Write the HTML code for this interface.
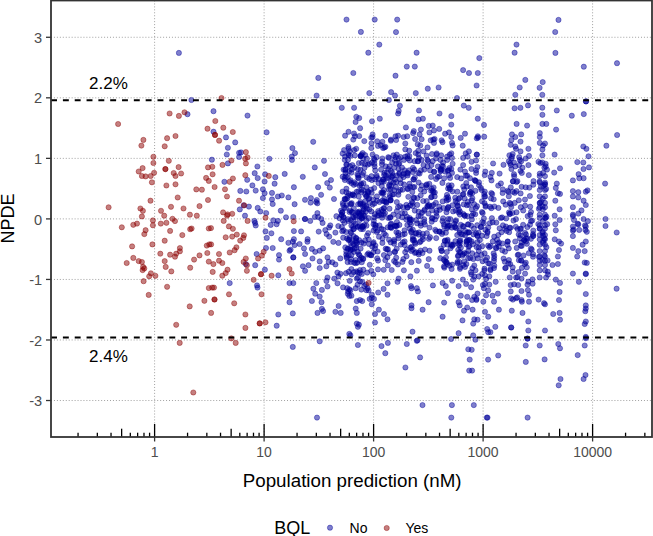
<!DOCTYPE html>
<html><head><meta charset="utf-8"><style>
html,body{margin:0;padding:0;background:#fff;overflow:hidden}
svg{display:block;font-family:"Liberation Sans",sans-serif}
</style></head><body>
<svg width="653" height="536" viewBox="0 0 653 536">
<rect width="653" height="536" fill="#fff"/>
<g stroke="#a0a0a0" stroke-width="1" stroke-dasharray="1 1.95"><line x1="154.60" y1="0.5" x2="154.60" y2="437.0"/><line x1="264.10" y1="0.5" x2="264.10" y2="437.0"/><line x1="373.60" y1="0.5" x2="373.60" y2="437.0"/><line x1="483.10" y1="0.5" x2="483.10" y2="437.0"/><line x1="592.60" y1="0.5" x2="592.60" y2="437.0"/><line x1="51.0" y1="400.52" x2="652.0" y2="400.52"/><line x1="51.0" y1="339.98" x2="652.0" y2="339.98"/><line x1="51.0" y1="279.44" x2="652.0" y2="279.44"/><line x1="51.0" y1="218.90" x2="652.0" y2="218.90"/><line x1="51.0" y1="158.36" x2="652.0" y2="158.36"/><line x1="51.0" y1="97.82" x2="652.0" y2="97.82"/><line x1="51.0" y1="37.28" x2="652.0" y2="37.28"/></g><g fill="#00009A" fill-opacity="0.5" stroke="#00009A" stroke-opacity="0.5" stroke-width="0.8"><circle cx="178.9" cy="52.9" r="2.6"/><circle cx="191.4" cy="100.0" r="2.6"/><circle cx="346.5" cy="19.6" r="2.6"/><circle cx="360.9" cy="31.9" r="2.6"/><circle cx="368.3" cy="52.7" r="2.6"/><circle cx="353.3" cy="73.0" r="2.6"/><circle cx="318.3" cy="77.9" r="2.6"/><circle cx="316.6" cy="95.6" r="2.6"/><circle cx="369.3" cy="93.1" r="2.6"/><circle cx="341.8" cy="107.8" r="2.6"/><circle cx="354.1" cy="107.8" r="2.6"/><circle cx="374.7" cy="19.6" r="2.6"/><circle cx="397.2" cy="19.6" r="2.6"/><circle cx="396.0" cy="32.1" r="2.6"/><circle cx="379.3" cy="44.6" r="2.6"/><circle cx="416.6" cy="52.7" r="2.6"/><circle cx="406.8" cy="66.6" r="2.6"/><circle cx="414.8" cy="66.6" r="2.6"/><circle cx="395.5" cy="75.7" r="2.6"/><circle cx="391.1" cy="92.1" r="2.6"/><circle cx="395.0" cy="95.6" r="2.6"/><circle cx="388.9" cy="100.0" r="2.6"/><circle cx="415.8" cy="93.1" r="2.6"/><circle cx="427.8" cy="88.7" r="2.6"/><circle cx="438.6" cy="87.5" r="2.6"/><circle cx="399.9" cy="105.8" r="2.6"/><circle cx="457.0" cy="98.0" r="2.6"/><circle cx="463.8" cy="105.6" r="2.6"/><circle cx="468.7" cy="107.8" r="2.6"/><circle cx="463.1" cy="70.1" r="2.6"/><circle cx="469.0" cy="73.0" r="2.6"/><circle cx="477.8" cy="73.0" r="2.6"/><circle cx="479.3" cy="58.1" r="2.6"/><circle cx="476.6" cy="85.5" r="2.6"/><circle cx="516.5" cy="44.6" r="2.6"/><circle cx="514.6" cy="52.7" r="2.6"/><circle cx="525.3" cy="79.9" r="2.6"/><circle cx="519.7" cy="87.5" r="2.6"/><circle cx="515.3" cy="94.8" r="2.6"/><circle cx="514.6" cy="108.3" r="2.6"/><circle cx="520.4" cy="107.8" r="2.6"/><circle cx="528.0" cy="105.4" r="2.6"/><circle cx="558.5" cy="19.9" r="2.6"/><circle cx="555.2" cy="32.0" r="2.6"/><circle cx="555.4" cy="52.9" r="2.6"/><circle cx="583.8" cy="66.7" r="2.6"/><circle cx="617.0" cy="63.2" r="2.6"/><circle cx="542.7" cy="82.1" r="2.6"/><circle cx="539.6" cy="87.8" r="2.6"/><circle cx="542.3" cy="94.8" r="2.6"/><circle cx="586.0" cy="101.4" r="2.6"/><circle cx="586.0" cy="101.4" r="2.6"/><circle cx="542.3" cy="107.7" r="2.6"/><circle cx="187.5" cy="114.2" r="2.6"/><circle cx="213.5" cy="111.2" r="2.6"/><circle cx="247.5" cy="115.6" r="2.6"/><circle cx="213.5" cy="131.7" r="2.6"/><circle cx="226.0" cy="137.4" r="2.6"/><circle cx="235.2" cy="142.4" r="2.6"/><circle cx="227.9" cy="147.8" r="2.6"/><circle cx="226.8" cy="154.5" r="2.6"/><circle cx="239.1" cy="152.8" r="2.6"/><circle cx="241.0" cy="152.4" r="2.6"/><circle cx="239.1" cy="157.0" r="2.6"/><circle cx="211.9" cy="159.7" r="2.6"/><circle cx="227.9" cy="163.4" r="2.6"/><circle cx="257.4" cy="166.5" r="2.6"/><circle cx="266.6" cy="132.3" r="2.6"/><circle cx="269.4" cy="158.8" r="2.6"/><circle cx="254.7" cy="173.2" r="2.6"/><circle cx="265.1" cy="174.3" r="2.6"/><circle cx="356.3" cy="116.8" r="2.6"/><circle cx="359.2" cy="118.1" r="2.6"/><circle cx="355.6" cy="122.0" r="2.6"/><circle cx="360.1" cy="128.2" r="2.6"/><circle cx="348.5" cy="131.8" r="2.6"/><circle cx="345.1" cy="135.7" r="2.6"/><circle cx="354.0" cy="133.5" r="2.6"/><circle cx="354.9" cy="136.3" r="2.6"/><circle cx="359.2" cy="136.1" r="2.6"/><circle cx="353.3" cy="139.6" r="2.6"/><circle cx="313.2" cy="141.8" r="2.6"/><circle cx="348.4" cy="146.8" r="2.6"/><circle cx="356.2" cy="148.8" r="2.6"/><circle cx="292.4" cy="148.1" r="2.6"/><circle cx="295.0" cy="153.1" r="2.6"/><circle cx="291.8" cy="156.6" r="2.6"/><circle cx="292.0" cy="159.9" r="2.6"/><circle cx="324.0" cy="160.8" r="2.6"/><circle cx="314.8" cy="167.4" r="2.6"/><circle cx="325.0" cy="174.0" r="2.6"/><circle cx="348.1" cy="153.8" r="2.6"/><circle cx="360.7" cy="156.0" r="2.6"/><circle cx="360.7" cy="156.0" r="2.6"/><circle cx="360.7" cy="156.0" r="2.6"/><circle cx="344.7" cy="159.8" r="2.6"/><circle cx="346.9" cy="164.6" r="2.6"/><circle cx="349.9" cy="166.1" r="2.6"/><circle cx="345.4" cy="169.9" r="2.6"/><circle cx="349.2" cy="171.3" r="2.6"/><circle cx="354.4" cy="167.6" r="2.6"/><circle cx="358.9" cy="163.1" r="2.6"/><circle cx="364.9" cy="163.9" r="2.6"/><circle cx="367.8" cy="164.6" r="2.6"/><circle cx="360.4" cy="169.9" r="2.6"/><circle cx="363.4" cy="172.8" r="2.6"/><circle cx="357.4" cy="174.3" r="2.6"/><circle cx="419.0" cy="110.5" r="2.6"/><circle cx="398.7" cy="110.9" r="2.6"/><circle cx="398.1" cy="113.5" r="2.6"/><circle cx="439.5" cy="113.5" r="2.6"/><circle cx="379.8" cy="118.7" r="2.6"/><circle cx="372.0" cy="121.3" r="2.6"/><circle cx="418.6" cy="119.4" r="2.6"/><circle cx="422.9" cy="118.7" r="2.6"/><circle cx="405.9" cy="127.5" r="2.6"/><circle cx="428.8" cy="125.9" r="2.6"/><circle cx="432.7" cy="125.6" r="2.6"/><circle cx="439.2" cy="128.9" r="2.6"/><circle cx="413.8" cy="131.1" r="2.6"/><circle cx="420.9" cy="129.6" r="2.6"/><circle cx="429.4" cy="132.4" r="2.6"/><circle cx="434.0" cy="130.5" r="2.6"/><circle cx="445.1" cy="133.7" r="2.6"/><circle cx="449.0" cy="132.4" r="2.6"/><circle cx="385.4" cy="135.7" r="2.6"/><circle cx="372.6" cy="134.4" r="2.6"/><circle cx="371.3" cy="137.6" r="2.6"/><circle cx="372.6" cy="137.0" r="2.6"/><circle cx="377.2" cy="141.3" r="2.6"/><circle cx="390.9" cy="139.6" r="2.6"/><circle cx="395.5" cy="136.3" r="2.6"/><circle cx="398.1" cy="135.7" r="2.6"/><circle cx="396.1" cy="140.0" r="2.6"/><circle cx="403.7" cy="137.0" r="2.6"/><circle cx="407.2" cy="136.3" r="2.6"/><circle cx="413.1" cy="133.1" r="2.6"/><circle cx="419.6" cy="134.4" r="2.6"/><circle cx="415.1" cy="139.0" r="2.6"/><circle cx="421.6" cy="139.2" r="2.6"/><circle cx="430.7" cy="140.3" r="2.6"/><circle cx="434.6" cy="139.0" r="2.6"/><circle cx="433.3" cy="139.6" r="2.6"/><circle cx="434.0" cy="142.9" r="2.6"/><circle cx="441.6" cy="140.3" r="2.6"/><circle cx="442.5" cy="142.2" r="2.6"/><circle cx="405.3" cy="143.5" r="2.6"/><circle cx="417.7" cy="144.2" r="2.6"/><circle cx="420.3" cy="145.5" r="2.6"/><circle cx="427.5" cy="147.4" r="2.6"/><circle cx="385.4" cy="146.8" r="2.6"/><circle cx="383.1" cy="148.1" r="2.6"/><circle cx="384.4" cy="147.4" r="2.6"/><circle cx="371.3" cy="148.1" r="2.6"/><circle cx="405.3" cy="149.4" r="2.6"/><circle cx="409.2" cy="150.7" r="2.6"/><circle cx="418.3" cy="150.7" r="2.6"/><circle cx="423.5" cy="151.4" r="2.6"/><circle cx="432.0" cy="154.0" r="2.6"/><circle cx="436.6" cy="154.6" r="2.6"/><circle cx="441.2" cy="155.3" r="2.6"/><circle cx="447.1" cy="156.6" r="2.6"/><circle cx="449.7" cy="154.6" r="2.6"/><circle cx="372.6" cy="154.6" r="2.6"/><circle cx="373.9" cy="158.5" r="2.6"/><circle cx="372.0" cy="162.5" r="2.6"/><circle cx="374.6" cy="159.9" r="2.6"/><circle cx="382.4" cy="158.5" r="2.6"/><circle cx="388.3" cy="157.2" r="2.6"/><circle cx="393.5" cy="155.3" r="2.6"/><circle cx="396.8" cy="154.6" r="2.6"/><circle cx="398.7" cy="158.5" r="2.6"/><circle cx="394.8" cy="159.9" r="2.6"/><circle cx="392.2" cy="162.5" r="2.6"/><circle cx="396.1" cy="163.8" r="2.6"/><circle cx="399.4" cy="163.1" r="2.6"/><circle cx="395.5" cy="157.2" r="2.6"/><circle cx="405.3" cy="156.6" r="2.6"/><circle cx="407.9" cy="158.5" r="2.6"/><circle cx="404.0" cy="159.9" r="2.6"/><circle cx="409.8" cy="160.5" r="2.6"/><circle cx="418.3" cy="154.6" r="2.6"/><circle cx="419.0" cy="157.9" r="2.6"/><circle cx="421.6" cy="159.9" r="2.6"/><circle cx="417.7" cy="161.2" r="2.6"/><circle cx="427.5" cy="159.9" r="2.6"/><circle cx="432.7" cy="161.2" r="2.6"/><circle cx="436.0" cy="158.5" r="2.6"/><circle cx="440.5" cy="159.9" r="2.6"/><circle cx="443.1" cy="162.5" r="2.6"/><circle cx="447.1" cy="159.9" r="2.6"/><circle cx="374.6" cy="166.4" r="2.6"/><circle cx="375.2" cy="170.3" r="2.6"/><circle cx="381.1" cy="169.6" r="2.6"/><circle cx="385.7" cy="166.4" r="2.6"/><circle cx="388.3" cy="169.0" r="2.6"/><circle cx="387.0" cy="172.3" r="2.6"/><circle cx="390.9" cy="171.0" r="2.6"/><circle cx="384.4" cy="172.9" r="2.6"/><circle cx="389.6" cy="166.4" r="2.6"/><circle cx="394.2" cy="167.7" r="2.6"/><circle cx="392.2" cy="172.9" r="2.6"/><circle cx="398.7" cy="169.0" r="2.6"/><circle cx="402.0" cy="167.7" r="2.6"/><circle cx="404.6" cy="170.3" r="2.6"/><circle cx="399.4" cy="172.9" r="2.6"/><circle cx="404.0" cy="173.6" r="2.6"/><circle cx="409.2" cy="170.3" r="2.6"/><circle cx="407.9" cy="173.6" r="2.6"/><circle cx="414.4" cy="169.6" r="2.6"/><circle cx="418.3" cy="172.9" r="2.6"/><circle cx="420.9" cy="170.3" r="2.6"/><circle cx="419.6" cy="173.6" r="2.6"/><circle cx="423.5" cy="165.1" r="2.6"/><circle cx="427.5" cy="166.4" r="2.6"/><circle cx="431.4" cy="165.1" r="2.6"/><circle cx="430.1" cy="170.3" r="2.6"/><circle cx="434.0" cy="171.6" r="2.6"/><circle cx="437.9" cy="166.4" r="2.6"/><circle cx="440.5" cy="169.0" r="2.6"/><circle cx="443.1" cy="166.4" r="2.6"/><circle cx="445.1" cy="171.6" r="2.6"/><circle cx="448.4" cy="170.3" r="2.6"/><circle cx="451.3" cy="116.1" r="2.6"/><circle cx="451.3" cy="124.6" r="2.6"/><circle cx="451.3" cy="137.0" r="2.6"/><circle cx="452.0" cy="142.9" r="2.6"/><circle cx="452.6" cy="145.5" r="2.6"/><circle cx="477.8" cy="118.7" r="2.6"/><circle cx="484.0" cy="124.9" r="2.6"/><circle cx="465.0" cy="133.7" r="2.6"/><circle cx="460.7" cy="137.9" r="2.6"/><circle cx="477.8" cy="136.3" r="2.6"/><circle cx="476.8" cy="138.3" r="2.6"/><circle cx="478.1" cy="137.6" r="2.6"/><circle cx="484.2" cy="136.7" r="2.6"/><circle cx="462.7" cy="145.7" r="2.6"/><circle cx="516.6" cy="123.9" r="2.6"/><circle cx="527.1" cy="125.6" r="2.6"/><circle cx="512.0" cy="134.4" r="2.6"/><circle cx="521.2" cy="134.4" r="2.6"/><circle cx="515.3" cy="137.0" r="2.6"/><circle cx="511.4" cy="140.0" r="2.6"/><circle cx="520.5" cy="141.6" r="2.6"/><circle cx="510.7" cy="144.8" r="2.6"/><circle cx="515.3" cy="146.5" r="2.6"/><circle cx="516.0" cy="148.8" r="2.6"/><circle cx="520.5" cy="151.4" r="2.6"/><circle cx="528.4" cy="148.8" r="2.6"/><circle cx="451.3" cy="153.3" r="2.6"/><circle cx="452.0" cy="157.9" r="2.6"/><circle cx="468.9" cy="151.4" r="2.6"/><circle cx="465.7" cy="153.3" r="2.6"/><circle cx="467.6" cy="156.6" r="2.6"/><circle cx="463.1" cy="157.9" r="2.6"/><circle cx="476.8" cy="154.6" r="2.6"/><circle cx="476.8" cy="154.6" r="2.6"/><circle cx="471.5" cy="161.8" r="2.6"/><circle cx="476.1" cy="160.5" r="2.6"/><circle cx="452.6" cy="163.8" r="2.6"/><circle cx="451.3" cy="169.0" r="2.6"/><circle cx="452.0" cy="172.9" r="2.6"/><circle cx="463.1" cy="165.1" r="2.6"/><circle cx="460.4" cy="169.6" r="2.6"/><circle cx="465.0" cy="171.6" r="2.6"/><circle cx="471.5" cy="169.0" r="2.6"/><circle cx="477.4" cy="167.0" r="2.6"/><circle cx="476.1" cy="170.3" r="2.6"/><circle cx="476.1" cy="172.9" r="2.6"/><circle cx="485.3" cy="171.6" r="2.6"/><circle cx="491.8" cy="172.9" r="2.6"/><circle cx="493.1" cy="163.5" r="2.6"/><circle cx="503.5" cy="164.8" r="2.6"/><circle cx="499.6" cy="173.6" r="2.6"/><circle cx="509.4" cy="155.3" r="2.6"/><circle cx="512.7" cy="154.0" r="2.6"/><circle cx="511.4" cy="158.5" r="2.6"/><circle cx="508.8" cy="161.2" r="2.6"/><circle cx="514.0" cy="162.5" r="2.6"/><circle cx="510.7" cy="165.1" r="2.6"/><circle cx="511.4" cy="169.0" r="2.6"/><circle cx="515.3" cy="166.4" r="2.6"/><circle cx="512.0" cy="156.6" r="2.6"/><circle cx="510.1" cy="163.1" r="2.6"/><circle cx="519.2" cy="157.2" r="2.6"/><circle cx="521.2" cy="161.2" r="2.6"/><circle cx="519.2" cy="165.1" r="2.6"/><circle cx="522.5" cy="167.7" r="2.6"/><circle cx="520.5" cy="171.0" r="2.6"/><circle cx="521.8" cy="172.9" r="2.6"/><circle cx="519.9" cy="159.9" r="2.6"/><circle cx="525.7" cy="158.5" r="2.6"/><circle cx="529.0" cy="155.9" r="2.6"/><circle cx="528.4" cy="165.1" r="2.6"/><circle cx="514.0" cy="174.2" r="2.6"/><circle cx="556.8" cy="110.5" r="2.6"/><circle cx="542.4" cy="114.8" r="2.6"/><circle cx="571.8" cy="115.7" r="2.6"/><circle cx="583.8" cy="114.1" r="2.6"/><circle cx="542.4" cy="123.9" r="2.6"/><circle cx="546.3" cy="123.9" r="2.6"/><circle cx="556.1" cy="129.6" r="2.6"/><circle cx="539.8" cy="133.1" r="2.6"/><circle cx="539.8" cy="137.0" r="2.6"/><circle cx="539.8" cy="142.9" r="2.6"/><circle cx="545.0" cy="143.5" r="2.6"/><circle cx="543.1" cy="145.5" r="2.6"/><circle cx="542.4" cy="149.4" r="2.6"/><circle cx="542.4" cy="155.3" r="2.6"/><circle cx="554.6" cy="154.6" r="2.6"/><circle cx="583.3" cy="146.5" r="2.6"/><circle cx="586.4" cy="148.8" r="2.6"/><circle cx="588.5" cy="156.3" r="2.6"/><circle cx="606.4" cy="145.7" r="2.6"/><circle cx="538.5" cy="161.8" r="2.6"/><circle cx="542.4" cy="162.5" r="2.6"/><circle cx="545.7" cy="163.8" r="2.6"/><circle cx="540.4" cy="163.1" r="2.6"/><circle cx="544.4" cy="167.7" r="2.6"/><circle cx="547.0" cy="169.6" r="2.6"/><circle cx="545.7" cy="166.4" r="2.6"/><circle cx="539.8" cy="173.6" r="2.6"/><circle cx="543.1" cy="172.9" r="2.6"/><circle cx="560.0" cy="168.3" r="2.6"/><circle cx="554.2" cy="172.6" r="2.6"/><circle cx="577.3" cy="162.1" r="2.6"/><circle cx="583.3" cy="162.5" r="2.6"/><circle cx="583.5" cy="169.0" r="2.6"/><circle cx="589.0" cy="167.4" r="2.6"/><circle cx="578.6" cy="174.2" r="2.6"/><circle cx="617.1" cy="135.0" r="2.6"/><circle cx="224.4" cy="181.8" r="2.6"/><circle cx="247.2" cy="179.8" r="2.6"/><circle cx="257.7" cy="178.1" r="2.6"/><circle cx="264.6" cy="181.5" r="2.6"/><circle cx="275.3" cy="177.2" r="2.6"/><circle cx="274.6" cy="183.7" r="2.6"/><circle cx="284.7" cy="173.9" r="2.6"/><circle cx="252.4" cy="185.4" r="2.6"/><circle cx="255.7" cy="190.6" r="2.6"/><circle cx="240.3" cy="190.9" r="2.6"/><circle cx="246.3" cy="191.5" r="2.6"/><circle cx="262.9" cy="189.3" r="2.6"/><circle cx="264.6" cy="193.2" r="2.6"/><circle cx="272.0" cy="192.9" r="2.6"/><circle cx="262.9" cy="198.1" r="2.6"/><circle cx="277.9" cy="196.5" r="2.6"/><circle cx="281.8" cy="195.5" r="2.6"/><circle cx="288.4" cy="197.4" r="2.6"/><circle cx="272.0" cy="199.4" r="2.6"/><circle cx="272.7" cy="204.0" r="2.6"/><circle cx="243.7" cy="205.3" r="2.6"/><circle cx="248.9" cy="206.6" r="2.6"/><circle cx="239.8" cy="209.4" r="2.6"/><circle cx="257.7" cy="207.9" r="2.6"/><circle cx="260.3" cy="211.5" r="2.6"/><circle cx="266.2" cy="213.1" r="2.6"/><circle cx="280.8" cy="210.7" r="2.6"/><circle cx="245.0" cy="215.7" r="2.6"/><circle cx="286.0" cy="217.3" r="2.6"/><circle cx="254.4" cy="220.9" r="2.6"/><circle cx="255.7" cy="225.5" r="2.6"/><circle cx="255.1" cy="222.9" r="2.6"/><circle cx="273.3" cy="220.3" r="2.6"/><circle cx="277.9" cy="220.9" r="2.6"/><circle cx="270.7" cy="224.9" r="2.6"/><circle cx="276.6" cy="224.2" r="2.6"/><circle cx="265.5" cy="231.4" r="2.6"/><circle cx="271.4" cy="233.3" r="2.6"/><circle cx="266.8" cy="237.9" r="2.6"/><circle cx="281.2" cy="239.2" r="2.6"/><circle cx="302.8" cy="176.8" r="2.6"/><circle cx="293.9" cy="187.2" r="2.6"/><circle cx="318.1" cy="187.2" r="2.6"/><circle cx="327.2" cy="183.1" r="2.6"/><circle cx="329.8" cy="187.6" r="2.6"/><circle cx="305.0" cy="199.8" r="2.6"/><circle cx="310.9" cy="198.1" r="2.6"/><circle cx="310.6" cy="202.6" r="2.6"/><circle cx="316.8" cy="200.0" r="2.6"/><circle cx="317.4" cy="203.3" r="2.6"/><circle cx="316.1" cy="202.0" r="2.6"/><circle cx="321.1" cy="194.8" r="2.6"/><circle cx="294.6" cy="204.2" r="2.6"/><circle cx="293.3" cy="217.0" r="2.6"/><circle cx="305.0" cy="219.0" r="2.6"/><circle cx="305.0" cy="219.0" r="2.6"/><circle cx="310.2" cy="220.9" r="2.6"/><circle cx="314.8" cy="217.0" r="2.6"/><circle cx="317.4" cy="213.1" r="2.6"/><circle cx="318.1" cy="217.0" r="2.6"/><circle cx="321.3" cy="219.0" r="2.6"/><circle cx="322.6" cy="222.9" r="2.6"/><circle cx="293.9" cy="231.1" r="2.6"/><circle cx="301.1" cy="231.4" r="2.6"/><circle cx="318.7" cy="231.6" r="2.6"/><circle cx="325.3" cy="230.1" r="2.6"/><circle cx="329.2" cy="227.5" r="2.6"/><circle cx="326.6" cy="234.0" r="2.6"/><circle cx="329.2" cy="236.6" r="2.6"/><circle cx="293.9" cy="239.2" r="2.6"/><circle cx="307.6" cy="239.2" r="2.6"/><circle cx="539.7" cy="176.1" r="2.6"/><circle cx="545.0" cy="176.1" r="2.6"/><circle cx="539.7" cy="182.5" r="2.6"/><circle cx="545.0" cy="182.5" r="2.6"/><circle cx="539.7" cy="190.0" r="2.6"/><circle cx="545.0" cy="190.0" r="2.6"/><circle cx="539.7" cy="196.4" r="2.6"/><circle cx="545.0" cy="196.4" r="2.6"/><circle cx="542.9" cy="198.6" r="2.6"/><circle cx="539.7" cy="202.9" r="2.6"/><circle cx="545.0" cy="202.9" r="2.6"/><circle cx="539.7" cy="207.2" r="2.6"/><circle cx="545.0" cy="207.2" r="2.6"/><circle cx="542.9" cy="209.3" r="2.6"/><circle cx="539.7" cy="214.7" r="2.6"/><circle cx="545.0" cy="214.7" r="2.6"/><circle cx="539.7" cy="217.9" r="2.6"/><circle cx="545.0" cy="217.9" r="2.6"/><circle cx="542.9" cy="221.1" r="2.6"/><circle cx="539.7" cy="225.4" r="2.6"/><circle cx="545.0" cy="225.4" r="2.6"/><circle cx="539.7" cy="228.6" r="2.6"/><circle cx="545.0" cy="228.6" r="2.6"/><circle cx="542.9" cy="231.8" r="2.6"/><circle cx="539.7" cy="235.0" r="2.6"/><circle cx="545.0" cy="235.0" r="2.6"/><circle cx="539.7" cy="239.3" r="2.6"/><circle cx="545.0" cy="239.3" r="2.6"/><circle cx="539.7" cy="244.7" r="2.6"/><circle cx="545.0" cy="244.7" r="2.6"/><circle cx="539.7" cy="251.1" r="2.6"/><circle cx="545.0" cy="251.1" r="2.6"/><circle cx="539.7" cy="256.5" r="2.6"/><circle cx="545.0" cy="256.5" r="2.6"/><circle cx="539.7" cy="260.8" r="2.6"/><circle cx="545.0" cy="260.8" r="2.6"/><circle cx="539.7" cy="265.0" r="2.6"/><circle cx="545.0" cy="265.0" r="2.6"/><circle cx="539.7" cy="270.4" r="2.6"/><circle cx="545.0" cy="270.4" r="2.6"/><circle cx="545.0" cy="184.6" r="2.6"/><circle cx="546.1" cy="188.9" r="2.6"/><circle cx="556.8" cy="183.6" r="2.6"/><circle cx="555.8" cy="187.9" r="2.6"/><circle cx="557.9" cy="193.2" r="2.6"/><circle cx="560.0" cy="193.9" r="2.6"/><circle cx="555.3" cy="200.7" r="2.6"/><circle cx="559.6" cy="209.3" r="2.6"/><circle cx="554.7" cy="215.7" r="2.6"/><circle cx="559.6" cy="220.0" r="2.6"/><circle cx="555.3" cy="224.3" r="2.6"/><circle cx="555.8" cy="230.3" r="2.6"/><circle cx="554.7" cy="239.3" r="2.6"/><circle cx="559.0" cy="241.5" r="2.6"/><circle cx="561.1" cy="243.6" r="2.6"/><circle cx="559.0" cy="250.0" r="2.6"/><circle cx="557.9" cy="256.5" r="2.6"/><circle cx="552.5" cy="265.0" r="2.6"/><circle cx="557.9" cy="264.0" r="2.6"/><circle cx="572.9" cy="180.4" r="2.6"/><circle cx="579.3" cy="178.2" r="2.6"/><circle cx="583.6" cy="178.2" r="2.6"/><circle cx="572.9" cy="191.1" r="2.6"/><circle cx="578.3" cy="192.2" r="2.6"/><circle cx="585.8" cy="191.7" r="2.6"/><circle cx="587.5" cy="190.4" r="2.6"/><circle cx="572.9" cy="196.4" r="2.6"/><circle cx="578.3" cy="197.5" r="2.6"/><circle cx="583.6" cy="200.7" r="2.6"/><circle cx="585.8" cy="205.0" r="2.6"/><circle cx="572.9" cy="207.2" r="2.6"/><circle cx="578.3" cy="213.6" r="2.6"/><circle cx="581.5" cy="210.4" r="2.6"/><circle cx="572.9" cy="214.7" r="2.6"/><circle cx="574.0" cy="220.0" r="2.6"/><circle cx="583.6" cy="219.0" r="2.6"/><circle cx="587.9" cy="221.1" r="2.6"/><circle cx="572.9" cy="226.5" r="2.6"/><circle cx="578.3" cy="224.3" r="2.6"/><circle cx="585.8" cy="226.5" r="2.6"/><circle cx="586.8" cy="231.8" r="2.6"/><circle cx="572.9" cy="230.7" r="2.6"/><circle cx="572.9" cy="236.1" r="2.6"/><circle cx="585.8" cy="241.5" r="2.6"/><circle cx="582.6" cy="244.7" r="2.6"/><circle cx="572.9" cy="247.9" r="2.6"/><circle cx="578.3" cy="251.1" r="2.6"/><circle cx="584.7" cy="251.1" r="2.6"/><circle cx="577.2" cy="256.5" r="2.6"/><circle cx="584.7" cy="262.5" r="2.6"/><circle cx="586.8" cy="262.9" r="2.6"/><circle cx="572.9" cy="273.6" r="2.6"/><circle cx="585.8" cy="273.6" r="2.6"/><circle cx="605.1" cy="183.6" r="2.6"/><circle cx="605.5" cy="219.0" r="2.6"/><circle cx="605.5" cy="226.0" r="2.6"/><circle cx="334.3" cy="278.6" r="2.6"/><circle cx="338.6" cy="276.4" r="2.6"/><circle cx="337.5" cy="283.3" r="2.6"/><circle cx="347.2" cy="288.2" r="2.6"/><circle cx="350.4" cy="290.4" r="2.6"/><circle cx="348.2" cy="291.4" r="2.6"/><circle cx="351.4" cy="295.7" r="2.6"/><circle cx="349.3" cy="289.3" r="2.6"/><circle cx="356.8" cy="278.6" r="2.6"/><circle cx="357.9" cy="277.5" r="2.6"/><circle cx="355.7" cy="288.2" r="2.6"/><circle cx="362.2" cy="281.8" r="2.6"/><circle cx="364.3" cy="286.1" r="2.6"/><circle cx="367.5" cy="288.2" r="2.6"/><circle cx="368.6" cy="290.4" r="2.6"/><circle cx="371.8" cy="297.9" r="2.6"/><circle cx="369.7" cy="298.9" r="2.6"/><circle cx="374.0" cy="298.9" r="2.6"/><circle cx="360.0" cy="300.0" r="2.6"/><circle cx="362.2" cy="301.1" r="2.6"/><circle cx="356.8" cy="301.1" r="2.6"/><circle cx="371.8" cy="304.3" r="2.6"/><circle cx="378.2" cy="292.5" r="2.6"/><circle cx="383.6" cy="288.9" r="2.6"/><circle cx="387.5" cy="294.7" r="2.6"/><circle cx="387.5" cy="283.3" r="2.6"/><circle cx="338.6" cy="306.0" r="2.6"/><circle cx="335.4" cy="311.8" r="2.6"/><circle cx="340.7" cy="312.9" r="2.6"/><circle cx="355.7" cy="308.6" r="2.6"/><circle cx="356.8" cy="312.9" r="2.6"/><circle cx="378.9" cy="309.7" r="2.6"/><circle cx="375.0" cy="314.0" r="2.6"/><circle cx="384.0" cy="314.0" r="2.6"/><circle cx="387.5" cy="319.3" r="2.6"/><circle cx="375.0" cy="322.5" r="2.6"/><circle cx="356.8" cy="323.6" r="2.6"/><circle cx="357.9" cy="326.8" r="2.6"/><circle cx="358.9" cy="324.7" r="2.6"/><circle cx="349.3" cy="333.9" r="2.6"/><circle cx="350.4" cy="335.4" r="2.6"/><circle cx="357.9" cy="345.0" r="2.6"/><circle cx="381.5" cy="346.1" r="2.6"/><circle cx="387.9" cy="342.9" r="2.6"/><circle cx="385.3" cy="353.2" r="2.6"/><circle cx="398.6" cy="278.6" r="2.6"/><circle cx="397.5" cy="281.8" r="2.6"/><circle cx="410.4" cy="276.4" r="2.6"/><circle cx="411.0" cy="286.1" r="2.6"/><circle cx="411.5" cy="288.2" r="2.6"/><circle cx="416.8" cy="288.2" r="2.6"/><circle cx="417.9" cy="291.4" r="2.6"/><circle cx="411.5" cy="305.4" r="2.6"/><circle cx="411.5" cy="308.2" r="2.6"/><circle cx="422.6" cy="309.7" r="2.6"/><circle cx="428.6" cy="302.2" r="2.6"/><circle cx="412.5" cy="331.7" r="2.6"/><circle cx="416.8" cy="340.8" r="2.6"/><circle cx="417.5" cy="340.3" r="2.6"/><circle cx="406.8" cy="344.0" r="2.6"/><circle cx="432.9" cy="285.4" r="2.6"/><circle cx="442.6" cy="282.9" r="2.6"/><circle cx="445.8" cy="286.1" r="2.6"/><circle cx="447.9" cy="293.2" r="2.6"/><circle cx="444.1" cy="302.6" r="2.6"/><circle cx="442.6" cy="316.7" r="2.6"/><circle cx="452.2" cy="280.7" r="2.6"/><circle cx="458.6" cy="286.1" r="2.6"/><circle cx="462.9" cy="279.6" r="2.6"/><circle cx="466.1" cy="283.9" r="2.6"/><circle cx="460.8" cy="295.7" r="2.6"/><circle cx="458.6" cy="302.2" r="2.6"/><circle cx="459.7" cy="305.4" r="2.6"/><circle cx="467.2" cy="296.8" r="2.6"/><circle cx="464.0" cy="310.7" r="2.6"/><circle cx="467.2" cy="307.5" r="2.6"/><circle cx="462.5" cy="320.4" r="2.6"/><circle cx="458.6" cy="333.2" r="2.6"/><circle cx="451.1" cy="339.0" r="2.6"/><circle cx="468.3" cy="349.3" r="2.6"/><circle cx="474.3" cy="276.4" r="2.6"/><circle cx="478.6" cy="276.4" r="2.6"/><circle cx="473.2" cy="279.6" r="2.6"/><circle cx="471.1" cy="287.2" r="2.6"/><circle cx="485.0" cy="275.4" r="2.6"/><circle cx="489.3" cy="276.4" r="2.6"/><circle cx="482.9" cy="285.0" r="2.6"/><circle cx="485.0" cy="283.9" r="2.6"/><circle cx="489.3" cy="284.6" r="2.6"/><circle cx="483.9" cy="288.2" r="2.6"/><circle cx="488.2" cy="290.4" r="2.6"/><circle cx="495.7" cy="281.8" r="2.6"/><circle cx="477.5" cy="293.6" r="2.6"/><circle cx="474.3" cy="296.8" r="2.6"/><circle cx="472.1" cy="300.0" r="2.6"/><circle cx="476.4" cy="298.9" r="2.6"/><circle cx="486.1" cy="295.3" r="2.6"/><circle cx="492.5" cy="295.7" r="2.6"/><circle cx="497.9" cy="293.6" r="2.6"/><circle cx="483.3" cy="301.7" r="2.6"/><circle cx="494.0" cy="301.7" r="2.6"/><circle cx="472.6" cy="309.7" r="2.6"/><circle cx="485.0" cy="311.8" r="2.6"/><circle cx="488.2" cy="316.7" r="2.6"/><circle cx="498.9" cy="309.7" r="2.6"/><circle cx="474.3" cy="319.3" r="2.6"/><circle cx="477.5" cy="319.7" r="2.6"/><circle cx="473.2" cy="323.6" r="2.6"/><circle cx="495.3" cy="326.8" r="2.6"/><circle cx="487.2" cy="329.0" r="2.6"/><circle cx="488.2" cy="332.2" r="2.6"/><circle cx="490.4" cy="332.2" r="2.6"/><circle cx="473.2" cy="335.4" r="2.6"/><circle cx="475.4" cy="339.7" r="2.6"/><circle cx="471.7" cy="349.8" r="2.6"/><circle cx="509.7" cy="277.5" r="2.6"/><circle cx="516.1" cy="277.5" r="2.6"/><circle cx="521.5" cy="278.6" r="2.6"/><circle cx="518.2" cy="285.0" r="2.6"/><circle cx="510.7" cy="285.0" r="2.6"/><circle cx="527.5" cy="284.6" r="2.6"/><circle cx="510.7" cy="291.4" r="2.6"/><circle cx="521.5" cy="291.0" r="2.6"/><circle cx="529.0" cy="294.7" r="2.6"/><circle cx="512.9" cy="299.6" r="2.6"/><circle cx="517.2" cy="297.4" r="2.6"/><circle cx="521.5" cy="300.0" r="2.6"/><circle cx="521.9" cy="301.7" r="2.6"/><circle cx="529.0" cy="301.7" r="2.6"/><circle cx="511.8" cy="310.7" r="2.6"/><circle cx="522.5" cy="312.9" r="2.6"/><circle cx="528.3" cy="321.5" r="2.6"/><circle cx="511.2" cy="327.5" r="2.6"/><circle cx="511.2" cy="327.5" r="2.6"/><circle cx="528.3" cy="330.5" r="2.6"/><circle cx="527.5" cy="338.6" r="2.6"/><circle cx="527.5" cy="338.6" r="2.6"/><circle cx="525.7" cy="345.5" r="2.6"/><circle cx="539.7" cy="277.5" r="2.6"/><circle cx="546.1" cy="277.5" r="2.6"/><circle cx="538.6" cy="299.6" r="2.6"/><circle cx="544.0" cy="303.2" r="2.6"/><circle cx="545.0" cy="304.3" r="2.6"/><circle cx="545.0" cy="330.5" r="2.6"/><circle cx="539.7" cy="345.5" r="2.6"/><circle cx="555.8" cy="279.6" r="2.6"/><circle cx="560.0" cy="282.9" r="2.6"/><circle cx="559.6" cy="291.9" r="2.6"/><circle cx="559.0" cy="300.0" r="2.6"/><circle cx="553.2" cy="314.0" r="2.6"/><circle cx="559.6" cy="312.9" r="2.6"/><circle cx="560.0" cy="319.7" r="2.6"/><circle cx="558.3" cy="344.0" r="2.6"/><circle cx="560.0" cy="348.3" r="2.6"/><circle cx="578.9" cy="281.8" r="2.6"/><circle cx="585.8" cy="294.0" r="2.6"/><circle cx="585.8" cy="305.4" r="2.6"/><circle cx="585.8" cy="308.6" r="2.6"/><circle cx="585.3" cy="311.2" r="2.6"/><circle cx="585.8" cy="321.5" r="2.6"/><circle cx="584.7" cy="324.0" r="2.6"/><circle cx="585.8" cy="336.9" r="2.6"/><circle cx="585.8" cy="338.2" r="2.6"/><circle cx="584.7" cy="345.5" r="2.6"/><circle cx="266.0" cy="248.0" r="2.6"/><circle cx="272.7" cy="248.0" r="2.6"/><circle cx="256.6" cy="254.0" r="2.6"/><circle cx="245.8" cy="264.1" r="2.6"/><circle cx="255.2" cy="265.2" r="2.6"/><circle cx="264.9" cy="269.7" r="2.6"/><circle cx="279.0" cy="255.1" r="2.6"/><circle cx="279.0" cy="259.6" r="2.6"/><circle cx="278.3" cy="275.3" r="2.6"/><circle cx="288.4" cy="242.8" r="2.6"/><circle cx="292.8" cy="241.7" r="2.6"/><circle cx="294.6" cy="245.1" r="2.6"/><circle cx="290.6" cy="249.6" r="2.6"/><circle cx="289.5" cy="250.7" r="2.6"/><circle cx="293.3" cy="257.4" r="2.6"/><circle cx="293.3" cy="257.4" r="2.6"/><circle cx="299.6" cy="244.0" r="2.6"/><circle cx="307.4" cy="241.7" r="2.6"/><circle cx="304.0" cy="248.4" r="2.6"/><circle cx="305.1" cy="254.0" r="2.6"/><circle cx="311.9" cy="248.9" r="2.6"/><circle cx="315.2" cy="251.8" r="2.6"/><circle cx="319.7" cy="250.7" r="2.6"/><circle cx="323.1" cy="248.4" r="2.6"/><circle cx="312.5" cy="258.5" r="2.6"/><circle cx="319.7" cy="261.4" r="2.6"/><circle cx="327.5" cy="257.4" r="2.6"/><circle cx="328.7" cy="261.9" r="2.6"/><circle cx="302.9" cy="266.3" r="2.6"/><circle cx="305.1" cy="270.8" r="2.6"/><circle cx="308.5" cy="265.2" r="2.6"/><circle cx="319.7" cy="268.1" r="2.6"/><circle cx="326.4" cy="266.3" r="2.6"/><circle cx="289.5" cy="283.1" r="2.6"/><circle cx="293.3" cy="283.1" r="2.6"/><circle cx="257.0" cy="285.4" r="2.6"/><circle cx="257.5" cy="287.6" r="2.6"/><circle cx="229.7" cy="283.1" r="2.6"/><circle cx="316.3" cy="283.1" r="2.6"/><circle cx="326.4" cy="280.9" r="2.6"/><circle cx="327.5" cy="277.5" r="2.6"/><circle cx="327.5" cy="286.5" r="2.6"/><circle cx="313.4" cy="288.7" r="2.6"/><circle cx="315.2" cy="293.7" r="2.6"/><circle cx="321.9" cy="289.9" r="2.6"/><circle cx="319.7" cy="296.6" r="2.6"/><circle cx="289.5" cy="302.2" r="2.6"/><circle cx="311.9" cy="301.0" r="2.6"/><circle cx="321.5" cy="302.2" r="2.6"/><circle cx="321.9" cy="308.9" r="2.6"/><circle cx="323.1" cy="311.1" r="2.6"/><circle cx="317.5" cy="312.9" r="2.6"/><circle cx="278.3" cy="314.5" r="2.6"/><circle cx="292.8" cy="313.4" r="2.6"/><circle cx="276.7" cy="325.7" r="2.6"/><circle cx="319.7" cy="341.3" r="2.6"/><circle cx="292.8" cy="346.9" r="2.6"/><circle cx="405.4" cy="367.5" r="2.6"/><circle cx="317.0" cy="417.6" r="2.6"/><circle cx="420.1" cy="357.4" r="2.6"/><circle cx="469.7" cy="359.6" r="2.6"/><circle cx="498.2" cy="355.5" r="2.6"/><circle cx="488.1" cy="359.6" r="2.6"/><circle cx="525.8" cy="361.9" r="2.6"/><circle cx="469.2" cy="370.6" r="2.6"/><circle cx="472.1" cy="370.6" r="2.6"/><circle cx="422.5" cy="405.1" r="2.6"/><circle cx="451.9" cy="405.1" r="2.6"/><circle cx="473.8" cy="405.1" r="2.6"/><circle cx="451.3" cy="417.6" r="2.6"/><circle cx="486.8" cy="417.6" r="2.6"/><circle cx="487.5" cy="417.6" r="2.6"/><circle cx="527.6" cy="417.6" r="2.6"/><circle cx="616.6" cy="288.7" r="2.6"/><circle cx="577.7" cy="355.1" r="2.6"/><circle cx="544.6" cy="359.4" r="2.6"/><circle cx="560.5" cy="379.0" r="2.6"/><circle cx="558.7" cy="385.3" r="2.6"/><circle cx="585.5" cy="375.0" r="2.6"/><circle cx="583.6" cy="379.0" r="2.6"/><circle cx="336.4" cy="216.2" r="2.6"/><circle cx="339.5" cy="218.2" r="2.6"/><circle cx="330.3" cy="225.4" r="2.6"/><circle cx="335.4" cy="232.6" r="2.6"/><circle cx="333.3" cy="241.8" r="2.6"/><circle cx="338.5" cy="242.9" r="2.6"/><circle cx="332.3" cy="262.3" r="2.6"/><circle cx="335.4" cy="264.4" r="2.6"/><circle cx="337.4" cy="272.6" r="2.6"/><circle cx="338.3" cy="226.1" r="2.6"/><circle cx="331.0" cy="180.0" r="2.6"/><circle cx="334.0" cy="199.0" r="2.6"/><circle cx="616.7" cy="232.5" r="2.6"/><circle cx="573.0" cy="216.1" r="2.6"/><circle cx="577.6" cy="223.7" r="2.6"/><circle cx="585.0" cy="225.4" r="2.6"/><circle cx="585.4" cy="229.9" r="2.6"/><circle cx="573.5" cy="229.5" r="2.6"/><circle cx="579.2" cy="229.9" r="2.6"/><circle cx="585.8" cy="274.1" r="2.6"/><circle cx="542.5" cy="233.2" r="2.6"/><circle cx="547.2" cy="224.2" r="2.6"/><circle cx="543.1" cy="235.8" r="2.6"/><circle cx="539.8" cy="228.6" r="2.6"/><circle cx="544.3" cy="255.3" r="2.6"/><circle cx="538.9" cy="208.8" r="2.6"/><circle cx="538.9" cy="256.9" r="2.6"/><circle cx="544.9" cy="184.0" r="2.6"/><circle cx="547.8" cy="271.7" r="2.6"/><circle cx="544.5" cy="238.5" r="2.6"/><circle cx="539.6" cy="181.4" r="2.6"/><circle cx="543.3" cy="185.7" r="2.6"/><circle cx="539.9" cy="203.0" r="2.6"/><circle cx="538.3" cy="224.1" r="2.6"/><circle cx="542.4" cy="260.0" r="2.6"/><circle cx="543.2" cy="240.8" r="2.6"/><circle cx="543.0" cy="242.9" r="2.6"/><circle cx="542.6" cy="206.4" r="2.6"/><circle cx="548.0" cy="274.6" r="2.6"/><circle cx="546.4" cy="247.2" r="2.6"/><circle cx="541.2" cy="201.8" r="2.6"/><circle cx="540.9" cy="186.7" r="2.6"/><circle cx="545.7" cy="218.0" r="2.6"/><circle cx="546.5" cy="216.7" r="2.6"/><circle cx="547.6" cy="260.5" r="2.6"/><circle cx="369.5" cy="163.7" r="2.6"/><circle cx="380.7" cy="145.1" r="2.6"/><circle cx="342.6" cy="153.5" r="2.6"/><circle cx="357.9" cy="169.2" r="2.6"/><circle cx="382.1" cy="161.7" r="2.6"/><circle cx="374.4" cy="163.8" r="2.6"/><circle cx="350.4" cy="155.8" r="2.6"/><circle cx="351.4" cy="172.6" r="2.6"/><circle cx="345.4" cy="169.5" r="2.6"/><circle cx="346.3" cy="164.7" r="2.6"/><circle cx="361.5" cy="154.6" r="2.6"/><circle cx="390.9" cy="140.7" r="2.6"/><circle cx="345.5" cy="172.9" r="2.6"/><circle cx="371.5" cy="143.3" r="2.6"/><circle cx="399.3" cy="174.1" r="2.6"/><circle cx="348.5" cy="155.2" r="2.6"/><circle cx="349.8" cy="151.3" r="2.6"/><circle cx="378.0" cy="145.9" r="2.6"/><circle cx="382.4" cy="141.8" r="2.6"/><circle cx="351.9" cy="169.4" r="2.6"/><circle cx="365.2" cy="155.1" r="2.6"/><circle cx="376.6" cy="157.2" r="2.6"/><circle cx="364.3" cy="141.1" r="2.6"/><circle cx="384.1" cy="174.8" r="2.6"/><circle cx="398.6" cy="163.9" r="2.6"/><circle cx="362.7" cy="153.1" r="2.6"/><circle cx="382.0" cy="164.3" r="2.6"/><circle cx="348.6" cy="148.5" r="2.6"/><circle cx="363.1" cy="158.4" r="2.6"/><circle cx="389.0" cy="158.0" r="2.6"/><circle cx="343.6" cy="169.6" r="2.6"/><circle cx="366.9" cy="158.7" r="2.6"/><circle cx="354.9" cy="155.4" r="2.6"/><circle cx="364.5" cy="167.8" r="2.6"/><circle cx="348.0" cy="159.8" r="2.6"/><circle cx="352.3" cy="165.1" r="2.6"/><circle cx="344.1" cy="150.0" r="2.6"/><circle cx="362.0" cy="162.9" r="2.6"/><circle cx="345.0" cy="156.5" r="2.6"/><circle cx="354.1" cy="150.1" r="2.6"/><circle cx="413.0" cy="167.8" r="2.6"/><circle cx="434.2" cy="172.1" r="2.6"/><circle cx="409.3" cy="156.0" r="2.6"/><circle cx="407.4" cy="155.9" r="2.6"/><circle cx="436.7" cy="153.4" r="2.6"/><circle cx="426.6" cy="155.6" r="2.6"/><circle cx="414.7" cy="161.2" r="2.6"/><circle cx="441.9" cy="165.8" r="2.6"/><circle cx="400.7" cy="157.2" r="2.6"/><circle cx="407.3" cy="172.7" r="2.6"/><circle cx="440.5" cy="171.0" r="2.6"/><circle cx="441.3" cy="169.4" r="2.6"/><circle cx="447.5" cy="170.6" r="2.6"/><circle cx="412.8" cy="172.1" r="2.6"/><circle cx="424.3" cy="169.6" r="2.6"/><circle cx="428.2" cy="161.2" r="2.6"/><circle cx="418.2" cy="161.2" r="2.6"/><circle cx="415.7" cy="153.1" r="2.6"/><circle cx="441.0" cy="170.8" r="2.6"/><circle cx="449.3" cy="168.0" r="2.6"/><circle cx="347.8" cy="293.8" r="2.6"/><circle cx="361.4" cy="289.6" r="2.6"/><circle cx="349.3" cy="295.9" r="2.6"/><circle cx="366.4" cy="290.2" r="2.6"/><circle cx="357.6" cy="284.7" r="2.6"/><circle cx="343.1" cy="287.4" r="2.6"/><circle cx="360.0" cy="281.4" r="2.6"/><circle cx="366.0" cy="284.6" r="2.6"/><circle cx="349.7" cy="280.8" r="2.6"/><circle cx="371.9" cy="294.8" r="2.6"/><circle cx="532.5" cy="279.4" r="2.6"/><circle cx="476.4" cy="300.0" r="2.6"/><circle cx="486.1" cy="278.9" r="2.6"/><circle cx="514.1" cy="284.3" r="2.6"/><circle cx="528.4" cy="281.6" r="2.6"/><circle cx="532.6" cy="283.7" r="2.6"/><circle cx="511.1" cy="298.4" r="2.6"/><circle cx="516.1" cy="298.2" r="2.6"/><circle cx="517.5" cy="277.2" r="2.6"/><circle cx="527.9" cy="290.1" r="2.6"/><circle cx="344.6" cy="177.8" r="2.6"/><circle cx="349.2" cy="181.3" r="2.6"/><circle cx="342.7" cy="176.7" r="2.6"/><circle cx="347.7" cy="177.1" r="2.6"/><circle cx="344.9" cy="180.0" r="2.6"/><circle cx="345.8" cy="176.3" r="2.6"/><circle cx="358.0" cy="177.7" r="2.6"/><circle cx="358.7" cy="178.2" r="2.6"/><circle cx="351.4" cy="183.0" r="2.6"/><circle cx="350.5" cy="180.3" r="2.6"/><circle cx="358.3" cy="175.4" r="2.6"/><circle cx="355.8" cy="183.8" r="2.6"/><circle cx="353.8" cy="184.8" r="2.6"/><circle cx="354.2" cy="182.3" r="2.6"/><circle cx="366.8" cy="177.5" r="2.6"/><circle cx="361.0" cy="184.7" r="2.6"/><circle cx="362.3" cy="175.0" r="2.6"/><circle cx="369.3" cy="178.9" r="2.6"/><circle cx="361.1" cy="183.4" r="2.6"/><circle cx="363.4" cy="183.2" r="2.6"/><circle cx="376.7" cy="177.1" r="2.6"/><circle cx="378.7" cy="179.0" r="2.6"/><circle cx="374.9" cy="179.4" r="2.6"/><circle cx="376.6" cy="175.4" r="2.6"/><circle cx="371.5" cy="176.2" r="2.6"/><circle cx="371.9" cy="180.1" r="2.6"/><circle cx="378.5" cy="183.1" r="2.6"/><circle cx="381.8" cy="181.9" r="2.6"/><circle cx="388.3" cy="177.8" r="2.6"/><circle cx="386.4" cy="178.1" r="2.6"/><circle cx="389.3" cy="184.5" r="2.6"/><circle cx="383.0" cy="179.6" r="2.6"/><circle cx="383.9" cy="181.6" r="2.6"/><circle cx="383.4" cy="179.7" r="2.6"/><circle cx="385.9" cy="175.7" r="2.6"/><circle cx="391.1" cy="176.4" r="2.6"/><circle cx="396.7" cy="175.6" r="2.6"/><circle cx="395.2" cy="179.5" r="2.6"/><circle cx="390.9" cy="181.8" r="2.6"/><circle cx="393.4" cy="182.6" r="2.6"/><circle cx="392.9" cy="175.6" r="2.6"/><circle cx="391.9" cy="177.1" r="2.6"/><circle cx="396.3" cy="182.1" r="2.6"/><circle cx="402.3" cy="175.1" r="2.6"/><circle cx="409.5" cy="183.7" r="2.6"/><circle cx="407.6" cy="175.5" r="2.6"/><circle cx="400.3" cy="179.3" r="2.6"/><circle cx="404.1" cy="184.4" r="2.6"/><circle cx="400.8" cy="183.2" r="2.6"/><circle cx="403.6" cy="177.1" r="2.6"/><circle cx="413.9" cy="179.6" r="2.6"/><circle cx="414.8" cy="177.5" r="2.6"/><circle cx="418.6" cy="182.5" r="2.6"/><circle cx="413.4" cy="179.3" r="2.6"/><circle cx="426.8" cy="184.4" r="2.6"/><circle cx="429.3" cy="183.8" r="2.6"/><circle cx="439.2" cy="176.4" r="2.6"/><circle cx="437.7" cy="177.0" r="2.6"/><circle cx="436.1" cy="179.0" r="2.6"/><circle cx="431.1" cy="176.9" r="2.6"/><circle cx="348.7" cy="193.5" r="2.6"/><circle cx="346.3" cy="192.2" r="2.6"/><circle cx="342.6" cy="191.6" r="2.6"/><circle cx="346.4" cy="188.7" r="2.6"/><circle cx="356.5" cy="191.8" r="2.6"/><circle cx="359.5" cy="185.6" r="2.6"/><circle cx="358.3" cy="191.3" r="2.6"/><circle cx="352.8" cy="194.3" r="2.6"/><circle cx="352.7" cy="194.9" r="2.6"/><circle cx="361.5" cy="192.1" r="2.6"/><circle cx="367.7" cy="193.2" r="2.6"/><circle cx="363.2" cy="190.1" r="2.6"/><circle cx="368.5" cy="192.2" r="2.6"/><circle cx="365.2" cy="194.2" r="2.6"/><circle cx="361.4" cy="189.6" r="2.6"/><circle cx="366.5" cy="187.3" r="2.6"/><circle cx="367.8" cy="191.4" r="2.6"/><circle cx="371.7" cy="192.7" r="2.6"/><circle cx="374.2" cy="188.0" r="2.6"/><circle cx="371.0" cy="189.6" r="2.6"/><circle cx="389.1" cy="186.1" r="2.6"/><circle cx="381.3" cy="192.5" r="2.6"/><circle cx="382.2" cy="193.6" r="2.6"/><circle cx="388.9" cy="189.7" r="2.6"/><circle cx="383.6" cy="193.1" r="2.6"/><circle cx="383.9" cy="190.1" r="2.6"/><circle cx="382.5" cy="192.2" r="2.6"/><circle cx="381.8" cy="186.0" r="2.6"/><circle cx="398.4" cy="194.7" r="2.6"/><circle cx="398.6" cy="191.7" r="2.6"/><circle cx="390.6" cy="189.2" r="2.6"/><circle cx="394.3" cy="190.2" r="2.6"/><circle cx="391.2" cy="185.6" r="2.6"/><circle cx="393.7" cy="194.3" r="2.6"/><circle cx="395.9" cy="186.9" r="2.6"/><circle cx="392.3" cy="194.5" r="2.6"/><circle cx="402.6" cy="189.7" r="2.6"/><circle cx="408.0" cy="188.7" r="2.6"/><circle cx="407.5" cy="189.1" r="2.6"/><circle cx="400.3" cy="189.8" r="2.6"/><circle cx="410.0" cy="186.7" r="2.6"/><circle cx="414.4" cy="187.0" r="2.6"/><circle cx="413.1" cy="187.1" r="2.6"/><circle cx="412.3" cy="191.9" r="2.6"/><circle cx="426.5" cy="187.4" r="2.6"/><circle cx="426.2" cy="185.3" r="2.6"/><circle cx="420.8" cy="189.6" r="2.6"/><circle cx="424.2" cy="191.5" r="2.6"/><circle cx="421.7" cy="185.6" r="2.6"/><circle cx="433.5" cy="192.5" r="2.6"/><circle cx="432.8" cy="191.1" r="2.6"/><circle cx="434.8" cy="192.5" r="2.6"/><circle cx="431.7" cy="188.7" r="2.6"/><circle cx="433.6" cy="187.5" r="2.6"/><circle cx="431.1" cy="190.8" r="2.6"/><circle cx="345.9" cy="199.2" r="2.6"/><circle cx="344.7" cy="198.9" r="2.6"/><circle cx="342.8" cy="203.1" r="2.6"/><circle cx="347.3" cy="198.4" r="2.6"/><circle cx="347.7" cy="196.0" r="2.6"/><circle cx="346.5" cy="205.0" r="2.6"/><circle cx="344.9" cy="199.4" r="2.6"/><circle cx="351.7" cy="203.1" r="2.6"/><circle cx="354.2" cy="195.7" r="2.6"/><circle cx="358.7" cy="196.6" r="2.6"/><circle cx="351.0" cy="195.2" r="2.6"/><circle cx="358.1" cy="204.3" r="2.6"/><circle cx="351.3" cy="204.2" r="2.6"/><circle cx="350.3" cy="203.8" r="2.6"/><circle cx="369.8" cy="202.9" r="2.6"/><circle cx="365.2" cy="201.2" r="2.6"/><circle cx="363.2" cy="204.1" r="2.6"/><circle cx="366.9" cy="196.1" r="2.6"/><circle cx="360.5" cy="202.0" r="2.6"/><circle cx="360.0" cy="203.7" r="2.6"/><circle cx="360.7" cy="204.0" r="2.6"/><circle cx="366.1" cy="196.1" r="2.6"/><circle cx="369.3" cy="198.1" r="2.6"/><circle cx="368.5" cy="198.9" r="2.6"/><circle cx="373.4" cy="199.5" r="2.6"/><circle cx="377.0" cy="200.7" r="2.6"/><circle cx="379.5" cy="202.0" r="2.6"/><circle cx="374.5" cy="203.5" r="2.6"/><circle cx="372.7" cy="204.4" r="2.6"/><circle cx="376.9" cy="196.4" r="2.6"/><circle cx="386.5" cy="202.9" r="2.6"/><circle cx="389.8" cy="195.1" r="2.6"/><circle cx="386.4" cy="201.9" r="2.6"/><circle cx="389.9" cy="197.3" r="2.6"/><circle cx="384.3" cy="198.6" r="2.6"/><circle cx="384.2" cy="201.3" r="2.6"/><circle cx="382.4" cy="200.6" r="2.6"/><circle cx="385.3" cy="201.9" r="2.6"/><circle cx="390.2" cy="200.3" r="2.6"/><circle cx="396.8" cy="202.1" r="2.6"/><circle cx="390.7" cy="199.8" r="2.6"/><circle cx="390.6" cy="200.4" r="2.6"/><circle cx="408.3" cy="196.8" r="2.6"/><circle cx="406.4" cy="204.9" r="2.6"/><circle cx="417.4" cy="198.1" r="2.6"/><circle cx="413.6" cy="197.4" r="2.6"/><circle cx="414.1" cy="198.1" r="2.6"/><circle cx="417.2" cy="204.9" r="2.6"/><circle cx="411.7" cy="201.9" r="2.6"/><circle cx="412.6" cy="202.9" r="2.6"/><circle cx="428.8" cy="205.0" r="2.6"/><circle cx="426.7" cy="201.1" r="2.6"/><circle cx="423.2" cy="201.0" r="2.6"/><circle cx="420.7" cy="195.3" r="2.6"/><circle cx="433.5" cy="204.9" r="2.6"/><circle cx="431.6" cy="196.8" r="2.6"/><circle cx="431.1" cy="197.3" r="2.6"/><circle cx="435.9" cy="202.8" r="2.6"/><circle cx="434.7" cy="196.4" r="2.6"/><circle cx="349.5" cy="212.1" r="2.6"/><circle cx="342.3" cy="212.2" r="2.6"/><circle cx="343.1" cy="205.0" r="2.6"/><circle cx="342.3" cy="212.4" r="2.6"/><circle cx="344.3" cy="207.8" r="2.6"/><circle cx="341.0" cy="210.7" r="2.6"/><circle cx="345.9" cy="207.9" r="2.6"/><circle cx="341.4" cy="215.0" r="2.6"/><circle cx="357.7" cy="212.8" r="2.6"/><circle cx="357.7" cy="212.0" r="2.6"/><circle cx="359.3" cy="211.5" r="2.6"/><circle cx="351.8" cy="212.1" r="2.6"/><circle cx="353.8" cy="208.3" r="2.6"/><circle cx="352.3" cy="212.0" r="2.6"/><circle cx="350.2" cy="210.5" r="2.6"/><circle cx="358.9" cy="213.3" r="2.6"/><circle cx="369.3" cy="209.4" r="2.6"/><circle cx="367.0" cy="208.4" r="2.6"/><circle cx="363.5" cy="209.4" r="2.6"/><circle cx="365.9" cy="211.6" r="2.6"/><circle cx="360.9" cy="214.8" r="2.6"/><circle cx="361.8" cy="212.7" r="2.6"/><circle cx="364.5" cy="206.3" r="2.6"/><circle cx="366.2" cy="206.1" r="2.6"/><circle cx="362.8" cy="206.4" r="2.6"/><circle cx="362.9" cy="211.6" r="2.6"/><circle cx="374.9" cy="214.1" r="2.6"/><circle cx="378.2" cy="211.1" r="2.6"/><circle cx="378.9" cy="212.9" r="2.6"/><circle cx="371.3" cy="211.4" r="2.6"/><circle cx="383.0" cy="211.3" r="2.6"/><circle cx="381.6" cy="209.8" r="2.6"/><circle cx="384.2" cy="208.0" r="2.6"/><circle cx="383.7" cy="208.4" r="2.6"/><circle cx="381.4" cy="214.8" r="2.6"/><circle cx="389.5" cy="208.7" r="2.6"/><circle cx="385.0" cy="213.1" r="2.6"/><circle cx="383.7" cy="214.8" r="2.6"/><circle cx="398.0" cy="207.2" r="2.6"/><circle cx="396.9" cy="211.1" r="2.6"/><circle cx="393.4" cy="214.6" r="2.6"/><circle cx="407.7" cy="207.3" r="2.6"/><circle cx="403.1" cy="207.3" r="2.6"/><circle cx="400.1" cy="206.2" r="2.6"/><circle cx="407.2" cy="207.7" r="2.6"/><circle cx="402.1" cy="213.0" r="2.6"/><circle cx="404.9" cy="213.2" r="2.6"/><circle cx="414.8" cy="210.6" r="2.6"/><circle cx="410.2" cy="205.3" r="2.6"/><circle cx="418.6" cy="211.7" r="2.6"/><circle cx="412.7" cy="206.1" r="2.6"/><circle cx="427.4" cy="206.2" r="2.6"/><circle cx="427.7" cy="206.8" r="2.6"/><circle cx="429.1" cy="205.8" r="2.6"/><circle cx="424.1" cy="210.8" r="2.6"/><circle cx="421.9" cy="212.8" r="2.6"/><circle cx="424.7" cy="209.6" r="2.6"/><circle cx="428.5" cy="213.5" r="2.6"/><circle cx="431.9" cy="206.1" r="2.6"/><circle cx="439.8" cy="209.8" r="2.6"/><circle cx="436.6" cy="210.7" r="2.6"/><circle cx="432.1" cy="210.2" r="2.6"/><circle cx="436.4" cy="213.0" r="2.6"/><circle cx="439.2" cy="206.7" r="2.6"/><circle cx="341.7" cy="215.3" r="2.6"/><circle cx="343.6" cy="217.3" r="2.6"/><circle cx="348.0" cy="219.2" r="2.6"/><circle cx="342.9" cy="220.5" r="2.6"/><circle cx="344.4" cy="222.8" r="2.6"/><circle cx="348.3" cy="221.0" r="2.6"/><circle cx="343.5" cy="217.1" r="2.6"/><circle cx="353.8" cy="217.2" r="2.6"/><circle cx="355.5" cy="223.9" r="2.6"/><circle cx="353.7" cy="221.5" r="2.6"/><circle cx="352.7" cy="217.0" r="2.6"/><circle cx="355.9" cy="215.3" r="2.6"/><circle cx="356.0" cy="216.8" r="2.6"/><circle cx="359.8" cy="216.2" r="2.6"/><circle cx="359.7" cy="220.1" r="2.6"/><circle cx="351.0" cy="220.1" r="2.6"/><circle cx="362.0" cy="217.0" r="2.6"/><circle cx="361.5" cy="218.1" r="2.6"/><circle cx="362.1" cy="218.2" r="2.6"/><circle cx="366.3" cy="220.3" r="2.6"/><circle cx="364.7" cy="216.0" r="2.6"/><circle cx="368.5" cy="218.1" r="2.6"/><circle cx="363.6" cy="215.3" r="2.6"/><circle cx="377.2" cy="215.8" r="2.6"/><circle cx="374.1" cy="217.3" r="2.6"/><circle cx="378.8" cy="215.3" r="2.6"/><circle cx="373.5" cy="224.2" r="2.6"/><circle cx="373.8" cy="220.5" r="2.6"/><circle cx="375.1" cy="224.8" r="2.6"/><circle cx="382.1" cy="217.7" r="2.6"/><circle cx="388.3" cy="218.0" r="2.6"/><circle cx="396.9" cy="222.0" r="2.6"/><circle cx="390.3" cy="217.2" r="2.6"/><circle cx="399.4" cy="224.9" r="2.6"/><circle cx="390.1" cy="217.7" r="2.6"/><circle cx="390.6" cy="224.3" r="2.6"/><circle cx="398.3" cy="216.1" r="2.6"/><circle cx="391.3" cy="223.7" r="2.6"/><circle cx="402.2" cy="217.3" r="2.6"/><circle cx="409.9" cy="222.7" r="2.6"/><circle cx="409.7" cy="218.0" r="2.6"/><circle cx="406.9" cy="216.7" r="2.6"/><circle cx="406.3" cy="219.6" r="2.6"/><circle cx="407.3" cy="225.0" r="2.6"/><circle cx="409.8" cy="219.6" r="2.6"/><circle cx="411.0" cy="224.3" r="2.6"/><circle cx="410.1" cy="219.9" r="2.6"/><circle cx="418.5" cy="216.1" r="2.6"/><circle cx="417.1" cy="223.3" r="2.6"/><circle cx="411.6" cy="219.8" r="2.6"/><circle cx="416.1" cy="220.1" r="2.6"/><circle cx="424.2" cy="221.9" r="2.6"/><circle cx="420.5" cy="223.3" r="2.6"/><circle cx="424.2" cy="219.3" r="2.6"/><circle cx="424.9" cy="224.6" r="2.6"/><circle cx="420.7" cy="216.1" r="2.6"/><circle cx="435.0" cy="219.4" r="2.6"/><circle cx="436.7" cy="216.2" r="2.6"/><circle cx="432.0" cy="217.8" r="2.6"/><circle cx="431.7" cy="221.7" r="2.6"/><circle cx="432.2" cy="218.6" r="2.6"/><circle cx="343.5" cy="230.3" r="2.6"/><circle cx="342.2" cy="231.2" r="2.6"/><circle cx="341.9" cy="227.0" r="2.6"/><circle cx="346.2" cy="232.0" r="2.6"/><circle cx="353.1" cy="226.6" r="2.6"/><circle cx="350.6" cy="231.5" r="2.6"/><circle cx="357.9" cy="227.0" r="2.6"/><circle cx="357.7" cy="226.3" r="2.6"/><circle cx="351.4" cy="225.6" r="2.6"/><circle cx="353.3" cy="229.2" r="2.6"/><circle cx="353.9" cy="228.9" r="2.6"/><circle cx="351.1" cy="232.9" r="2.6"/><circle cx="359.7" cy="225.9" r="2.6"/><circle cx="368.2" cy="233.1" r="2.6"/><circle cx="363.0" cy="229.1" r="2.6"/><circle cx="362.6" cy="226.1" r="2.6"/><circle cx="362.5" cy="227.2" r="2.6"/><circle cx="362.7" cy="226.4" r="2.6"/><circle cx="360.9" cy="229.1" r="2.6"/><circle cx="366.5" cy="225.7" r="2.6"/><circle cx="364.2" cy="225.1" r="2.6"/><circle cx="375.9" cy="225.5" r="2.6"/><circle cx="377.7" cy="230.5" r="2.6"/><circle cx="373.5" cy="230.5" r="2.6"/><circle cx="375.1" cy="227.9" r="2.6"/><circle cx="379.5" cy="225.4" r="2.6"/><circle cx="376.8" cy="231.9" r="2.6"/><circle cx="387.7" cy="227.3" r="2.6"/><circle cx="383.1" cy="229.6" r="2.6"/><circle cx="384.1" cy="233.5" r="2.6"/><circle cx="381.4" cy="228.8" r="2.6"/><circle cx="396.7" cy="225.8" r="2.6"/><circle cx="390.9" cy="227.2" r="2.6"/><circle cx="391.4" cy="228.0" r="2.6"/><circle cx="396.5" cy="226.0" r="2.6"/><circle cx="398.3" cy="232.9" r="2.6"/><circle cx="396.4" cy="232.1" r="2.6"/><circle cx="390.4" cy="227.3" r="2.6"/><circle cx="395.0" cy="225.8" r="2.6"/><circle cx="394.9" cy="226.0" r="2.6"/><circle cx="402.6" cy="234.7" r="2.6"/><circle cx="404.7" cy="233.9" r="2.6"/><circle cx="409.8" cy="228.6" r="2.6"/><circle cx="404.5" cy="230.3" r="2.6"/><circle cx="418.6" cy="234.6" r="2.6"/><circle cx="411.3" cy="232.4" r="2.6"/><circle cx="415.5" cy="233.4" r="2.6"/><circle cx="412.8" cy="229.7" r="2.6"/><circle cx="416.6" cy="233.0" r="2.6"/><circle cx="411.2" cy="231.1" r="2.6"/><circle cx="419.0" cy="232.4" r="2.6"/><circle cx="420.8" cy="225.7" r="2.6"/><circle cx="429.5" cy="227.6" r="2.6"/><circle cx="422.9" cy="233.8" r="2.6"/><circle cx="426.9" cy="233.2" r="2.6"/><circle cx="436.3" cy="231.3" r="2.6"/><circle cx="435.2" cy="229.8" r="2.6"/><circle cx="439.5" cy="231.5" r="2.6"/><circle cx="439.4" cy="231.7" r="2.6"/><circle cx="348.4" cy="239.9" r="2.6"/><circle cx="347.0" cy="238.4" r="2.6"/><circle cx="349.3" cy="239.7" r="2.6"/><circle cx="343.2" cy="237.7" r="2.6"/><circle cx="349.7" cy="237.2" r="2.6"/><circle cx="356.2" cy="238.3" r="2.6"/><circle cx="356.1" cy="240.4" r="2.6"/><circle cx="350.8" cy="242.9" r="2.6"/><circle cx="356.0" cy="242.0" r="2.6"/><circle cx="352.0" cy="241.8" r="2.6"/><circle cx="353.7" cy="236.2" r="2.6"/><circle cx="353.7" cy="244.2" r="2.6"/><circle cx="359.2" cy="240.2" r="2.6"/><circle cx="356.0" cy="237.9" r="2.6"/><circle cx="356.9" cy="243.1" r="2.6"/><circle cx="361.4" cy="242.6" r="2.6"/><circle cx="365.1" cy="240.4" r="2.6"/><circle cx="369.0" cy="244.0" r="2.6"/><circle cx="367.0" cy="235.7" r="2.6"/><circle cx="368.7" cy="239.5" r="2.6"/><circle cx="363.7" cy="243.6" r="2.6"/><circle cx="379.0" cy="236.7" r="2.6"/><circle cx="373.6" cy="242.3" r="2.6"/><circle cx="373.1" cy="243.5" r="2.6"/><circle cx="382.5" cy="238.6" r="2.6"/><circle cx="385.8" cy="235.1" r="2.6"/><circle cx="382.4" cy="242.9" r="2.6"/><circle cx="389.0" cy="239.7" r="2.6"/><circle cx="394.1" cy="243.7" r="2.6"/><circle cx="398.5" cy="238.2" r="2.6"/><circle cx="398.1" cy="235.3" r="2.6"/><circle cx="394.1" cy="239.8" r="2.6"/><circle cx="390.7" cy="242.4" r="2.6"/><circle cx="394.1" cy="241.3" r="2.6"/><circle cx="404.6" cy="241.4" r="2.6"/><circle cx="400.8" cy="244.6" r="2.6"/><circle cx="402.9" cy="242.3" r="2.6"/><circle cx="414.9" cy="242.6" r="2.6"/><circle cx="419.7" cy="242.3" r="2.6"/><circle cx="412.9" cy="236.7" r="2.6"/><circle cx="414.2" cy="240.2" r="2.6"/><circle cx="413.0" cy="239.1" r="2.6"/><circle cx="415.4" cy="243.8" r="2.6"/><circle cx="412.8" cy="240.2" r="2.6"/><circle cx="420.8" cy="241.2" r="2.6"/><circle cx="428.9" cy="238.8" r="2.6"/><circle cx="422.8" cy="236.8" r="2.6"/><circle cx="423.0" cy="239.2" r="2.6"/><circle cx="436.2" cy="238.1" r="2.6"/><circle cx="430.0" cy="237.2" r="2.6"/><circle cx="347.5" cy="248.8" r="2.6"/><circle cx="345.3" cy="247.4" r="2.6"/><circle cx="346.2" cy="254.6" r="2.6"/><circle cx="346.3" cy="251.5" r="2.6"/><circle cx="348.2" cy="248.7" r="2.6"/><circle cx="350.6" cy="249.9" r="2.6"/><circle cx="353.9" cy="251.9" r="2.6"/><circle cx="357.8" cy="251.8" r="2.6"/><circle cx="356.1" cy="245.1" r="2.6"/><circle cx="354.5" cy="248.2" r="2.6"/><circle cx="358.7" cy="254.3" r="2.6"/><circle cx="350.7" cy="249.9" r="2.6"/><circle cx="352.5" cy="249.6" r="2.6"/><circle cx="356.2" cy="247.8" r="2.6"/><circle cx="350.8" cy="247.1" r="2.6"/><circle cx="367.3" cy="254.6" r="2.6"/><circle cx="360.6" cy="248.6" r="2.6"/><circle cx="369.7" cy="254.7" r="2.6"/><circle cx="368.4" cy="253.3" r="2.6"/><circle cx="373.4" cy="252.1" r="2.6"/><circle cx="377.6" cy="251.5" r="2.6"/><circle cx="372.2" cy="246.6" r="2.6"/><circle cx="375.4" cy="245.6" r="2.6"/><circle cx="374.9" cy="248.4" r="2.6"/><circle cx="389.5" cy="253.2" r="2.6"/><circle cx="387.9" cy="249.2" r="2.6"/><circle cx="386.9" cy="249.3" r="2.6"/><circle cx="385.7" cy="248.7" r="2.6"/><circle cx="394.9" cy="252.2" r="2.6"/><circle cx="396.7" cy="248.7" r="2.6"/><circle cx="394.9" cy="251.5" r="2.6"/><circle cx="406.9" cy="249.3" r="2.6"/><circle cx="404.7" cy="245.1" r="2.6"/><circle cx="405.2" cy="252.1" r="2.6"/><circle cx="411.6" cy="246.9" r="2.6"/><circle cx="415.0" cy="253.0" r="2.6"/><circle cx="418.7" cy="252.6" r="2.6"/><circle cx="411.3" cy="250.9" r="2.6"/><circle cx="410.3" cy="247.6" r="2.6"/><circle cx="412.7" cy="249.7" r="2.6"/><circle cx="416.0" cy="252.2" r="2.6"/><circle cx="418.8" cy="254.4" r="2.6"/><circle cx="422.5" cy="253.1" r="2.6"/><circle cx="429.5" cy="250.7" r="2.6"/><circle cx="420.6" cy="250.6" r="2.6"/><circle cx="425.0" cy="249.5" r="2.6"/><circle cx="346.7" cy="256.6" r="2.6"/><circle cx="340.3" cy="258.4" r="2.6"/><circle cx="348.7" cy="255.3" r="2.6"/><circle cx="346.7" cy="257.8" r="2.6"/><circle cx="347.6" cy="262.1" r="2.6"/><circle cx="350.7" cy="261.9" r="2.6"/><circle cx="359.9" cy="259.9" r="2.6"/><circle cx="355.7" cy="263.2" r="2.6"/><circle cx="351.3" cy="255.2" r="2.6"/><circle cx="351.2" cy="259.2" r="2.6"/><circle cx="357.3" cy="262.6" r="2.6"/><circle cx="359.5" cy="255.2" r="2.6"/><circle cx="355.8" cy="260.0" r="2.6"/><circle cx="354.2" cy="262.7" r="2.6"/><circle cx="361.8" cy="262.2" r="2.6"/><circle cx="363.3" cy="259.0" r="2.6"/><circle cx="369.8" cy="264.8" r="2.6"/><circle cx="362.9" cy="258.7" r="2.6"/><circle cx="361.3" cy="257.6" r="2.6"/><circle cx="371.0" cy="255.3" r="2.6"/><circle cx="371.2" cy="255.0" r="2.6"/><circle cx="378.1" cy="260.6" r="2.6"/><circle cx="377.2" cy="258.3" r="2.6"/><circle cx="387.4" cy="257.2" r="2.6"/><circle cx="383.9" cy="255.0" r="2.6"/><circle cx="385.3" cy="260.2" r="2.6"/><circle cx="394.1" cy="261.0" r="2.6"/><circle cx="395.7" cy="262.5" r="2.6"/><circle cx="396.2" cy="257.7" r="2.6"/><circle cx="397.9" cy="264.5" r="2.6"/><circle cx="403.4" cy="259.0" r="2.6"/><circle cx="406.5" cy="256.3" r="2.6"/><circle cx="402.4" cy="261.9" r="2.6"/><circle cx="418.7" cy="260.9" r="2.6"/><circle cx="411.3" cy="262.2" r="2.6"/><circle cx="428.7" cy="259.1" r="2.6"/><circle cx="348.8" cy="271.7" r="2.6"/><circle cx="340.5" cy="273.8" r="2.6"/><circle cx="346.0" cy="273.2" r="2.6"/><circle cx="351.4" cy="269.1" r="2.6"/><circle cx="351.7" cy="274.5" r="2.6"/><circle cx="356.4" cy="271.4" r="2.6"/><circle cx="359.9" cy="270.1" r="2.6"/><circle cx="357.8" cy="272.4" r="2.6"/><circle cx="359.7" cy="272.9" r="2.6"/><circle cx="353.8" cy="272.1" r="2.6"/><circle cx="361.8" cy="274.0" r="2.6"/><circle cx="363.3" cy="269.7" r="2.6"/><circle cx="367.2" cy="272.6" r="2.6"/><circle cx="378.0" cy="269.4" r="2.6"/><circle cx="371.2" cy="270.8" r="2.6"/><circle cx="373.3" cy="274.3" r="2.6"/><circle cx="387.8" cy="265.4" r="2.6"/><circle cx="383.7" cy="269.8" r="2.6"/><circle cx="391.7" cy="270.0" r="2.6"/><circle cx="403.9" cy="270.3" r="2.6"/><circle cx="416.9" cy="270.7" r="2.6"/><circle cx="427.1" cy="265.9" r="2.6"/><circle cx="431.4" cy="270.4" r="2.6"/><circle cx="448.8" cy="175.2" r="2.6"/><circle cx="444.1" cy="178.3" r="2.6"/><circle cx="442.4" cy="182.9" r="2.6"/><circle cx="457.2" cy="177.1" r="2.6"/><circle cx="450.1" cy="177.9" r="2.6"/><circle cx="465.8" cy="175.7" r="2.6"/><circle cx="461.1" cy="178.4" r="2.6"/><circle cx="466.3" cy="183.0" r="2.6"/><circle cx="467.2" cy="175.7" r="2.6"/><circle cx="475.2" cy="180.6" r="2.6"/><circle cx="474.7" cy="180.1" r="2.6"/><circle cx="470.0" cy="178.2" r="2.6"/><circle cx="475.8" cy="181.1" r="2.6"/><circle cx="484.7" cy="175.1" r="2.6"/><circle cx="479.0" cy="182.3" r="2.6"/><circle cx="490.5" cy="176.9" r="2.6"/><circle cx="491.5" cy="180.4" r="2.6"/><circle cx="500.9" cy="183.4" r="2.6"/><circle cx="512.9" cy="181.3" r="2.6"/><circle cx="514.2" cy="176.3" r="2.6"/><circle cx="513.1" cy="181.4" r="2.6"/><circle cx="516.5" cy="182.0" r="2.6"/><circle cx="517.4" cy="181.2" r="2.6"/><circle cx="533.3" cy="184.7" r="2.6"/><circle cx="528.8" cy="175.1" r="2.6"/><circle cx="533.5" cy="181.1" r="2.6"/><circle cx="448.6" cy="185.3" r="2.6"/><circle cx="447.0" cy="194.9" r="2.6"/><circle cx="448.1" cy="188.5" r="2.6"/><circle cx="452.5" cy="191.3" r="2.6"/><circle cx="457.3" cy="191.7" r="2.6"/><circle cx="450.0" cy="189.4" r="2.6"/><circle cx="449.6" cy="187.5" r="2.6"/><circle cx="451.6" cy="185.4" r="2.6"/><circle cx="463.3" cy="186.4" r="2.6"/><circle cx="464.3" cy="189.3" r="2.6"/><circle cx="463.4" cy="194.0" r="2.6"/><circle cx="462.7" cy="194.6" r="2.6"/><circle cx="466.9" cy="186.5" r="2.6"/><circle cx="475.5" cy="190.8" r="2.6"/><circle cx="471.0" cy="187.3" r="2.6"/><circle cx="470.2" cy="192.6" r="2.6"/><circle cx="470.6" cy="192.1" r="2.6"/><circle cx="469.9" cy="194.1" r="2.6"/><circle cx="472.2" cy="193.3" r="2.6"/><circle cx="484.8" cy="191.6" r="2.6"/><circle cx="484.2" cy="194.0" r="2.6"/><circle cx="480.8" cy="187.8" r="2.6"/><circle cx="479.0" cy="185.2" r="2.6"/><circle cx="481.7" cy="190.0" r="2.6"/><circle cx="491.3" cy="193.0" r="2.6"/><circle cx="492.2" cy="194.0" r="2.6"/><circle cx="502.8" cy="189.3" r="2.6"/><circle cx="498.2" cy="185.6" r="2.6"/><circle cx="502.6" cy="193.0" r="2.6"/><circle cx="514.8" cy="192.8" r="2.6"/><circle cx="507.6" cy="190.8" r="2.6"/><circle cx="510.8" cy="187.3" r="2.6"/><circle cx="508.4" cy="191.8" r="2.6"/><circle cx="512.9" cy="191.8" r="2.6"/><circle cx="521.6" cy="186.8" r="2.6"/><circle cx="520.6" cy="193.4" r="2.6"/><circle cx="516.5" cy="191.1" r="2.6"/><circle cx="525.7" cy="187.3" r="2.6"/><circle cx="529.3" cy="187.6" r="2.6"/><circle cx="446.4" cy="197.9" r="2.6"/><circle cx="442.7" cy="201.4" r="2.6"/><circle cx="448.4" cy="199.5" r="2.6"/><circle cx="448.0" cy="197.2" r="2.6"/><circle cx="446.7" cy="200.5" r="2.6"/><circle cx="455.2" cy="197.7" r="2.6"/><circle cx="455.6" cy="201.1" r="2.6"/><circle cx="458.6" cy="198.8" r="2.6"/><circle cx="457.0" cy="202.7" r="2.6"/><circle cx="467.9" cy="201.9" r="2.6"/><circle cx="464.6" cy="198.5" r="2.6"/><circle cx="463.7" cy="204.4" r="2.6"/><circle cx="459.9" cy="197.8" r="2.6"/><circle cx="474.2" cy="204.2" r="2.6"/><circle cx="471.7" cy="200.4" r="2.6"/><circle cx="472.4" cy="198.3" r="2.6"/><circle cx="468.9" cy="204.8" r="2.6"/><circle cx="484.3" cy="196.7" r="2.6"/><circle cx="482.0" cy="201.3" r="2.6"/><circle cx="484.5" cy="203.1" r="2.6"/><circle cx="485.3" cy="196.5" r="2.6"/><circle cx="491.1" cy="198.5" r="2.6"/><circle cx="493.7" cy="199.3" r="2.6"/><circle cx="505.6" cy="204.7" r="2.6"/><circle cx="503.2" cy="201.4" r="2.6"/><circle cx="514.7" cy="202.9" r="2.6"/><circle cx="508.8" cy="196.3" r="2.6"/><circle cx="510.7" cy="204.0" r="2.6"/><circle cx="509.8" cy="202.9" r="2.6"/><circle cx="518.8" cy="200.3" r="2.6"/><circle cx="529.9" cy="196.0" r="2.6"/><circle cx="525.0" cy="199.6" r="2.6"/><circle cx="443.5" cy="208.0" r="2.6"/><circle cx="447.3" cy="209.1" r="2.6"/><circle cx="446.5" cy="212.3" r="2.6"/><circle cx="448.1" cy="207.7" r="2.6"/><circle cx="448.3" cy="206.9" r="2.6"/><circle cx="457.6" cy="205.7" r="2.6"/><circle cx="452.5" cy="205.3" r="2.6"/><circle cx="453.1" cy="211.4" r="2.6"/><circle cx="458.7" cy="212.5" r="2.6"/><circle cx="455.7" cy="210.5" r="2.6"/><circle cx="457.9" cy="206.1" r="2.6"/><circle cx="460.0" cy="211.5" r="2.6"/><circle cx="459.9" cy="214.6" r="2.6"/><circle cx="466.9" cy="205.2" r="2.6"/><circle cx="463.5" cy="214.0" r="2.6"/><circle cx="458.9" cy="209.6" r="2.6"/><circle cx="477.0" cy="206.2" r="2.6"/><circle cx="475.9" cy="208.1" r="2.6"/><circle cx="475.2" cy="214.2" r="2.6"/><circle cx="471.9" cy="209.4" r="2.6"/><circle cx="473.2" cy="213.5" r="2.6"/><circle cx="485.6" cy="206.7" r="2.6"/><circle cx="482.0" cy="212.0" r="2.6"/><circle cx="485.7" cy="205.6" r="2.6"/><circle cx="482.7" cy="213.1" r="2.6"/><circle cx="494.4" cy="206.5" r="2.6"/><circle cx="491.3" cy="208.2" r="2.6"/><circle cx="490.0" cy="206.7" r="2.6"/><circle cx="498.4" cy="207.9" r="2.6"/><circle cx="511.2" cy="207.1" r="2.6"/><circle cx="509.0" cy="212.4" r="2.6"/><circle cx="509.9" cy="213.7" r="2.6"/><circle cx="509.7" cy="214.1" r="2.6"/><circle cx="512.5" cy="213.0" r="2.6"/><circle cx="516.5" cy="212.3" r="2.6"/><circle cx="520.8" cy="207.2" r="2.6"/><circle cx="523.2" cy="210.5" r="2.6"/><circle cx="530.2" cy="206.7" r="2.6"/><circle cx="531.0" cy="212.0" r="2.6"/><circle cx="525.1" cy="205.6" r="2.6"/><circle cx="530.3" cy="214.9" r="2.6"/><circle cx="447.4" cy="222.6" r="2.6"/><circle cx="443.9" cy="224.3" r="2.6"/><circle cx="443.1" cy="218.3" r="2.6"/><circle cx="442.5" cy="221.2" r="2.6"/><circle cx="448.2" cy="219.0" r="2.6"/><circle cx="450.3" cy="219.1" r="2.6"/><circle cx="455.9" cy="220.3" r="2.6"/><circle cx="454.2" cy="223.7" r="2.6"/><circle cx="455.7" cy="221.5" r="2.6"/><circle cx="464.8" cy="215.9" r="2.6"/><circle cx="467.5" cy="216.2" r="2.6"/><circle cx="460.8" cy="224.8" r="2.6"/><circle cx="464.6" cy="215.3" r="2.6"/><circle cx="467.8" cy="224.4" r="2.6"/><circle cx="468.5" cy="224.4" r="2.6"/><circle cx="471.9" cy="219.4" r="2.6"/><circle cx="471.7" cy="215.8" r="2.6"/><circle cx="483.9" cy="218.4" r="2.6"/><circle cx="483.8" cy="223.2" r="2.6"/><circle cx="482.2" cy="222.2" r="2.6"/><circle cx="496.3" cy="222.6" r="2.6"/><circle cx="491.9" cy="218.2" r="2.6"/><circle cx="492.6" cy="222.3" r="2.6"/><circle cx="489.8" cy="223.2" r="2.6"/><circle cx="502.1" cy="217.4" r="2.6"/><circle cx="500.9" cy="218.0" r="2.6"/><circle cx="506.1" cy="218.5" r="2.6"/><circle cx="513.5" cy="220.6" r="2.6"/><circle cx="523.1" cy="224.8" r="2.6"/><circle cx="516.0" cy="219.2" r="2.6"/><circle cx="531.0" cy="221.1" r="2.6"/><circle cx="527.7" cy="216.1" r="2.6"/><circle cx="530.0" cy="224.7" r="2.6"/><circle cx="532.2" cy="220.6" r="2.6"/><circle cx="444.3" cy="226.5" r="2.6"/><circle cx="448.4" cy="225.6" r="2.6"/><circle cx="447.7" cy="226.8" r="2.6"/><circle cx="442.5" cy="232.0" r="2.6"/><circle cx="445.9" cy="232.7" r="2.6"/><circle cx="447.0" cy="228.2" r="2.6"/><circle cx="442.0" cy="233.9" r="2.6"/><circle cx="454.9" cy="227.1" r="2.6"/><circle cx="455.2" cy="226.6" r="2.6"/><circle cx="451.9" cy="227.6" r="2.6"/><circle cx="456.1" cy="228.1" r="2.6"/><circle cx="449.6" cy="225.6" r="2.6"/><circle cx="462.6" cy="234.6" r="2.6"/><circle cx="465.3" cy="231.0" r="2.6"/><circle cx="459.8" cy="230.3" r="2.6"/><circle cx="461.2" cy="234.1" r="2.6"/><circle cx="463.0" cy="226.1" r="2.6"/><circle cx="459.5" cy="232.6" r="2.6"/><circle cx="467.1" cy="232.7" r="2.6"/><circle cx="463.7" cy="226.6" r="2.6"/><circle cx="468.6" cy="232.4" r="2.6"/><circle cx="473.5" cy="234.4" r="2.6"/><circle cx="469.1" cy="232.3" r="2.6"/><circle cx="476.1" cy="233.3" r="2.6"/><circle cx="471.2" cy="225.7" r="2.6"/><circle cx="477.2" cy="225.2" r="2.6"/><circle cx="473.9" cy="228.7" r="2.6"/><circle cx="485.5" cy="229.9" r="2.6"/><circle cx="481.0" cy="226.8" r="2.6"/><circle cx="480.8" cy="227.2" r="2.6"/><circle cx="478.5" cy="232.7" r="2.6"/><circle cx="487.5" cy="231.6" r="2.6"/><circle cx="487.4" cy="232.9" r="2.6"/><circle cx="488.2" cy="227.5" r="2.6"/><circle cx="501.5" cy="232.3" r="2.6"/><circle cx="504.9" cy="228.8" r="2.6"/><circle cx="503.0" cy="225.3" r="2.6"/><circle cx="499.6" cy="228.3" r="2.6"/><circle cx="498.3" cy="235.0" r="2.6"/><circle cx="506.0" cy="226.5" r="2.6"/><circle cx="506.6" cy="230.9" r="2.6"/><circle cx="510.5" cy="227.8" r="2.6"/><circle cx="509.1" cy="232.2" r="2.6"/><circle cx="509.6" cy="227.8" r="2.6"/><circle cx="518.7" cy="234.4" r="2.6"/><circle cx="517.6" cy="229.0" r="2.6"/><circle cx="515.8" cy="226.8" r="2.6"/><circle cx="520.2" cy="229.1" r="2.6"/><circle cx="520.9" cy="228.7" r="2.6"/><circle cx="533.0" cy="234.0" r="2.6"/><circle cx="527.4" cy="227.1" r="2.6"/><circle cx="525.0" cy="232.8" r="2.6"/><circle cx="533.3" cy="230.6" r="2.6"/><circle cx="526.0" cy="234.4" r="2.6"/><circle cx="447.6" cy="239.8" r="2.6"/><circle cx="447.2" cy="241.0" r="2.6"/><circle cx="447.2" cy="244.5" r="2.6"/><circle cx="445.0" cy="240.5" r="2.6"/><circle cx="444.8" cy="241.0" r="2.6"/><circle cx="443.7" cy="244.8" r="2.6"/><circle cx="455.4" cy="241.2" r="2.6"/><circle cx="450.9" cy="244.4" r="2.6"/><circle cx="458.3" cy="243.7" r="2.6"/><circle cx="453.4" cy="244.6" r="2.6"/><circle cx="457.2" cy="235.1" r="2.6"/><circle cx="467.3" cy="240.2" r="2.6"/><circle cx="466.4" cy="241.8" r="2.6"/><circle cx="466.8" cy="241.2" r="2.6"/><circle cx="460.3" cy="240.2" r="2.6"/><circle cx="466.4" cy="244.4" r="2.6"/><circle cx="460.1" cy="242.6" r="2.6"/><circle cx="459.5" cy="241.0" r="2.6"/><circle cx="465.1" cy="235.2" r="2.6"/><circle cx="477.3" cy="235.4" r="2.6"/><circle cx="472.9" cy="244.2" r="2.6"/><circle cx="477.5" cy="242.1" r="2.6"/><circle cx="471.7" cy="241.5" r="2.6"/><circle cx="468.9" cy="240.1" r="2.6"/><circle cx="469.6" cy="239.9" r="2.6"/><circle cx="486.6" cy="236.1" r="2.6"/><circle cx="479.9" cy="240.1" r="2.6"/><circle cx="481.9" cy="235.7" r="2.6"/><circle cx="477.7" cy="236.3" r="2.6"/><circle cx="494.2" cy="236.7" r="2.6"/><circle cx="492.8" cy="241.4" r="2.6"/><circle cx="497.1" cy="239.7" r="2.6"/><circle cx="499.0" cy="242.4" r="2.6"/><circle cx="497.6" cy="243.5" r="2.6"/><circle cx="502.4" cy="243.5" r="2.6"/><circle cx="507.7" cy="241.6" r="2.6"/><circle cx="507.5" cy="244.9" r="2.6"/><circle cx="515.2" cy="241.5" r="2.6"/><circle cx="507.7" cy="241.5" r="2.6"/><circle cx="524.4" cy="239.9" r="2.6"/><circle cx="519.9" cy="238.3" r="2.6"/><circle cx="520.5" cy="235.4" r="2.6"/><circle cx="521.5" cy="242.6" r="2.6"/><circle cx="524.0" cy="240.3" r="2.6"/><circle cx="525.8" cy="238.1" r="2.6"/><circle cx="527.3" cy="238.3" r="2.6"/><circle cx="533.1" cy="235.8" r="2.6"/><circle cx="525.9" cy="241.5" r="2.6"/><circle cx="526.9" cy="243.8" r="2.6"/><circle cx="533.2" cy="236.1" r="2.6"/><circle cx="530.9" cy="238.8" r="2.6"/><circle cx="441.7" cy="251.1" r="2.6"/><circle cx="441.7" cy="250.7" r="2.6"/><circle cx="440.9" cy="248.5" r="2.6"/><circle cx="446.8" cy="252.0" r="2.6"/><circle cx="450.5" cy="248.2" r="2.6"/><circle cx="451.9" cy="245.1" r="2.6"/><circle cx="458.2" cy="249.8" r="2.6"/><circle cx="452.2" cy="246.0" r="2.6"/><circle cx="466.5" cy="253.6" r="2.6"/><circle cx="460.9" cy="247.7" r="2.6"/><circle cx="459.4" cy="245.3" r="2.6"/><circle cx="459.4" cy="252.1" r="2.6"/><circle cx="464.6" cy="253.1" r="2.6"/><circle cx="463.0" cy="254.3" r="2.6"/><circle cx="460.5" cy="252.5" r="2.6"/><circle cx="472.2" cy="253.3" r="2.6"/><circle cx="468.3" cy="250.9" r="2.6"/><circle cx="476.7" cy="247.1" r="2.6"/><circle cx="469.4" cy="245.8" r="2.6"/><circle cx="476.6" cy="254.9" r="2.6"/><circle cx="468.7" cy="246.7" r="2.6"/><circle cx="481.5" cy="254.9" r="2.6"/><circle cx="484.6" cy="253.3" r="2.6"/><circle cx="478.8" cy="251.0" r="2.6"/><circle cx="478.9" cy="247.3" r="2.6"/><circle cx="482.2" cy="246.2" r="2.6"/><circle cx="489.3" cy="247.1" r="2.6"/><circle cx="488.1" cy="245.6" r="2.6"/><circle cx="496.4" cy="248.2" r="2.6"/><circle cx="493.6" cy="253.4" r="2.6"/><circle cx="495.8" cy="247.8" r="2.6"/><circle cx="490.7" cy="246.0" r="2.6"/><circle cx="498.8" cy="246.4" r="2.6"/><circle cx="502.3" cy="250.3" r="2.6"/><circle cx="505.0" cy="251.7" r="2.6"/><circle cx="508.8" cy="248.4" r="2.6"/><circle cx="520.8" cy="245.8" r="2.6"/><circle cx="516.7" cy="247.9" r="2.6"/><circle cx="518.5" cy="254.6" r="2.6"/><circle cx="517.7" cy="255.0" r="2.6"/><circle cx="521.7" cy="245.9" r="2.6"/><circle cx="533.1" cy="254.2" r="2.6"/><circle cx="528.8" cy="253.2" r="2.6"/><circle cx="530.9" cy="248.5" r="2.6"/><circle cx="531.7" cy="249.5" r="2.6"/><circle cx="444.8" cy="261.0" r="2.6"/><circle cx="440.3" cy="258.2" r="2.6"/><circle cx="447.1" cy="263.9" r="2.6"/><circle cx="445.9" cy="257.5" r="2.6"/><circle cx="443.7" cy="259.6" r="2.6"/><circle cx="445.9" cy="261.9" r="2.6"/><circle cx="446.7" cy="262.4" r="2.6"/><circle cx="452.2" cy="264.6" r="2.6"/><circle cx="458.0" cy="256.3" r="2.6"/><circle cx="457.6" cy="263.3" r="2.6"/><circle cx="458.2" cy="255.4" r="2.6"/><circle cx="457.5" cy="261.9" r="2.6"/><circle cx="464.2" cy="261.5" r="2.6"/><circle cx="462.3" cy="255.7" r="2.6"/><circle cx="466.4" cy="264.1" r="2.6"/><circle cx="459.3" cy="261.9" r="2.6"/><circle cx="473.3" cy="259.0" r="2.6"/><circle cx="470.2" cy="258.0" r="2.6"/><circle cx="468.2" cy="258.3" r="2.6"/><circle cx="477.8" cy="258.3" r="2.6"/><circle cx="482.6" cy="261.2" r="2.6"/><circle cx="485.8" cy="260.2" r="2.6"/><circle cx="489.6" cy="263.6" r="2.6"/><circle cx="494.1" cy="258.3" r="2.6"/><circle cx="494.0" cy="260.9" r="2.6"/><circle cx="488.3" cy="263.3" r="2.6"/><circle cx="487.1" cy="257.6" r="2.6"/><circle cx="494.3" cy="255.8" r="2.6"/><circle cx="503.6" cy="258.6" r="2.6"/><circle cx="504.8" cy="261.7" r="2.6"/><circle cx="508.9" cy="260.0" r="2.6"/><circle cx="508.3" cy="263.4" r="2.6"/><circle cx="510.2" cy="264.1" r="2.6"/><circle cx="520.9" cy="260.3" r="2.6"/><circle cx="523.5" cy="255.5" r="2.6"/><circle cx="521.4" cy="260.7" r="2.6"/><circle cx="518.9" cy="260.2" r="2.6"/><circle cx="525.8" cy="262.7" r="2.6"/><circle cx="524.8" cy="264.1" r="2.6"/><circle cx="533.0" cy="256.7" r="2.6"/><circle cx="444.3" cy="267.7" r="2.6"/><circle cx="444.0" cy="266.4" r="2.6"/><circle cx="449.6" cy="265.7" r="2.6"/><circle cx="451.6" cy="268.9" r="2.6"/><circle cx="460.2" cy="267.2" r="2.6"/><circle cx="465.0" cy="266.9" r="2.6"/><circle cx="463.2" cy="265.1" r="2.6"/><circle cx="460.0" cy="268.8" r="2.6"/><circle cx="474.3" cy="265.5" r="2.6"/><circle cx="475.5" cy="270.3" r="2.6"/><circle cx="471.5" cy="274.4" r="2.6"/><circle cx="472.4" cy="268.3" r="2.6"/><circle cx="470.9" cy="272.2" r="2.6"/><circle cx="482.2" cy="273.9" r="2.6"/><circle cx="484.5" cy="268.7" r="2.6"/><circle cx="484.4" cy="270.3" r="2.6"/><circle cx="490.5" cy="269.1" r="2.6"/><circle cx="494.3" cy="265.7" r="2.6"/><circle cx="490.5" cy="270.2" r="2.6"/><circle cx="494.0" cy="268.1" r="2.6"/><circle cx="505.7" cy="267.9" r="2.6"/><circle cx="505.2" cy="268.1" r="2.6"/><circle cx="512.7" cy="271.6" r="2.6"/><circle cx="512.7" cy="267.4" r="2.6"/><circle cx="521.9" cy="267.9" r="2.6"/><circle cx="518.5" cy="272.0" r="2.6"/><circle cx="525.1" cy="273.6" r="2.6"/><circle cx="526.8" cy="267.3" r="2.6"/></g><g fill="#8B0000" fill-opacity="0.5" stroke="#8B0000" stroke-opacity="0.5" stroke-width="0.8"><circle cx="221.5" cy="98.0" r="2.6"/><circle cx="169.6" cy="113.5" r="2.6"/><circle cx="178.9" cy="115.9" r="2.6"/><circle cx="184.5" cy="112.3" r="2.6"/><circle cx="207.5" cy="128.7" r="2.6"/><circle cx="118.1" cy="124.0" r="2.6"/><circle cx="143.4" cy="139.9" r="2.6"/><circle cx="141.4" cy="145.6" r="2.6"/><circle cx="167.1" cy="138.2" r="2.6"/><circle cx="175.5" cy="136.0" r="2.6"/><circle cx="164.7" cy="146.3" r="2.6"/><circle cx="153.4" cy="156.8" r="2.6"/><circle cx="168.8" cy="160.8" r="2.6"/><circle cx="153.4" cy="163.0" r="2.6"/><circle cx="178.6" cy="167.1" r="2.6"/><circle cx="142.6" cy="168.1" r="2.6"/><circle cx="138.7" cy="171.5" r="2.6"/><circle cx="165.4" cy="169.1" r="2.6"/><circle cx="165.4" cy="169.1" r="2.6"/><circle cx="154.1" cy="172.8" r="2.6"/><circle cx="173.7" cy="173.0" r="2.6"/><circle cx="181.1" cy="173.5" r="2.6"/><circle cx="175.5" cy="176.0" r="2.6"/><circle cx="141.9" cy="176.0" r="2.6"/><circle cx="145.6" cy="176.4" r="2.6"/><circle cx="150.7" cy="176.0" r="2.6"/><circle cx="151.9" cy="182.3" r="2.6"/><circle cx="166.4" cy="185.5" r="2.6"/><circle cx="175.5" cy="184.3" r="2.6"/><circle cx="206.1" cy="177.9" r="2.6"/><circle cx="208.8" cy="180.9" r="2.6"/><circle cx="208.0" cy="167.4" r="2.6"/><circle cx="196.3" cy="189.4" r="2.6"/><circle cx="201.9" cy="189.7" r="2.6"/><circle cx="177.7" cy="197.5" r="2.6"/><circle cx="150.5" cy="200.7" r="2.6"/><circle cx="208.0" cy="200.0" r="2.6"/><circle cx="108.6" cy="207.3" r="2.6"/><circle cx="140.4" cy="208.5" r="2.6"/><circle cx="142.9" cy="210.8" r="2.6"/><circle cx="171.0" cy="206.8" r="2.6"/><circle cx="183.5" cy="208.5" r="2.6"/><circle cx="161.0" cy="210.8" r="2.6"/><circle cx="199.5" cy="206.1" r="2.6"/><circle cx="164.2" cy="215.7" r="2.6"/><circle cx="141.9" cy="216.4" r="2.6"/><circle cx="189.9" cy="214.7" r="2.6"/><circle cx="196.8" cy="215.7" r="2.6"/><circle cx="172.5" cy="218.8" r="2.6"/><circle cx="215.3" cy="121.0" r="2.6"/><circle cx="223.3" cy="127.7" r="2.6"/><circle cx="232.8" cy="132.0" r="2.6"/><circle cx="215.0" cy="134.9" r="2.6"/><circle cx="215.0" cy="134.9" r="2.6"/><circle cx="219.1" cy="140.7" r="2.6"/><circle cx="245.9" cy="152.1" r="2.6"/><circle cx="247.5" cy="157.4" r="2.6"/><circle cx="245.2" cy="158.7" r="2.6"/><circle cx="245.9" cy="163.4" r="2.6"/><circle cx="231.4" cy="160.5" r="2.6"/><circle cx="222.5" cy="164.9" r="2.6"/><circle cx="212.3" cy="166.8" r="2.6"/><circle cx="212.6" cy="174.3" r="2.6"/><circle cx="245.3" cy="175.2" r="2.6"/><circle cx="268.8" cy="175.9" r="2.6"/><circle cx="214.6" cy="187.0" r="2.6"/><circle cx="225.0" cy="189.3" r="2.6"/><circle cx="227.0" cy="196.5" r="2.6"/><circle cx="232.9" cy="178.5" r="2.6"/><circle cx="229.6" cy="181.8" r="2.6"/><circle cx="239.0" cy="200.7" r="2.6"/><circle cx="223.1" cy="212.4" r="2.6"/><circle cx="227.6" cy="214.4" r="2.6"/><circle cx="232.2" cy="213.8" r="2.6"/><circle cx="227.0" cy="215.7" r="2.6"/><circle cx="223.7" cy="220.9" r="2.6"/><circle cx="228.9" cy="226.4" r="2.6"/><circle cx="232.9" cy="228.8" r="2.6"/><circle cx="211.0" cy="228.1" r="2.6"/><circle cx="247.6" cy="220.9" r="2.6"/><circle cx="244.2" cy="205.3" r="2.6"/><circle cx="265.5" cy="217.7" r="2.6"/><circle cx="236.8" cy="234.6" r="2.6"/><circle cx="244.0" cy="235.3" r="2.6"/><circle cx="243.3" cy="237.9" r="2.6"/><circle cx="232.2" cy="236.6" r="2.6"/><circle cx="225.7" cy="237.3" r="2.6"/><circle cx="293.7" cy="221.3" r="2.6"/><circle cx="368.6" cy="282.9" r="2.6"/><circle cx="240.2" cy="240.6" r="2.6"/><circle cx="211.1" cy="244.4" r="2.6"/><circle cx="236.4" cy="247.3" r="2.6"/><circle cx="234.6" cy="250.2" r="2.6"/><circle cx="229.7" cy="252.5" r="2.6"/><circle cx="219.0" cy="254.0" r="2.6"/><circle cx="219.0" cy="260.7" r="2.6"/><circle cx="222.3" cy="263.0" r="2.6"/><circle cx="213.4" cy="264.1" r="2.6"/><circle cx="243.6" cy="261.9" r="2.6"/><circle cx="245.8" cy="258.5" r="2.6"/><circle cx="246.9" cy="265.2" r="2.6"/><circle cx="258.1" cy="258.5" r="2.6"/><circle cx="261.9" cy="255.6" r="2.6"/><circle cx="263.7" cy="251.8" r="2.6"/><circle cx="227.5" cy="269.7" r="2.6"/><circle cx="225.7" cy="273.1" r="2.6"/><circle cx="222.3" cy="275.7" r="2.6"/><circle cx="212.7" cy="271.9" r="2.6"/><circle cx="246.9" cy="270.8" r="2.6"/><circle cx="261.0" cy="274.2" r="2.6"/><circle cx="261.0" cy="274.2" r="2.6"/><circle cx="271.6" cy="275.7" r="2.6"/><circle cx="253.7" cy="279.8" r="2.6"/><circle cx="289.5" cy="269.0" r="2.6"/><circle cx="291.7" cy="273.5" r="2.6"/><circle cx="212.2" cy="287.6" r="2.6"/><circle cx="214.0" cy="287.6" r="2.6"/><circle cx="229.0" cy="294.3" r="2.6"/><circle cx="214.5" cy="299.5" r="2.6"/><circle cx="214.5" cy="299.5" r="2.6"/><circle cx="261.5" cy="294.3" r="2.6"/><circle cx="234.2" cy="303.3" r="2.6"/><circle cx="289.5" cy="296.6" r="2.6"/><circle cx="211.1" cy="312.9" r="2.6"/><circle cx="245.4" cy="314.5" r="2.6"/><circle cx="259.7" cy="323.4" r="2.6"/><circle cx="259.7" cy="323.4" r="2.6"/><circle cx="265.5" cy="322.3" r="2.6"/><circle cx="245.4" cy="327.9" r="2.6"/><circle cx="231.3" cy="338.4" r="2.6"/><circle cx="235.7" cy="342.9" r="2.6"/><circle cx="175.0" cy="221.1" r="2.6"/><circle cx="121.8" cy="227.3" r="2.6"/><circle cx="133.3" cy="224.8" r="2.6"/><circle cx="137.0" cy="223.6" r="2.6"/><circle cx="152.9" cy="220.4" r="2.6"/><circle cx="152.9" cy="225.3" r="2.6"/><circle cx="160.8" cy="223.6" r="2.6"/><circle cx="166.4" cy="222.8" r="2.6"/><circle cx="145.6" cy="230.2" r="2.6"/><circle cx="144.3" cy="234.1" r="2.6"/><circle cx="170.1" cy="230.9" r="2.6"/><circle cx="182.3" cy="235.1" r="2.6"/><circle cx="190.2" cy="229.2" r="2.6"/><circle cx="191.6" cy="228.5" r="2.6"/><circle cx="208.8" cy="228.5" r="2.6"/><circle cx="164.7" cy="240.7" r="2.6"/><circle cx="132.1" cy="246.4" r="2.6"/><circle cx="152.4" cy="244.4" r="2.6"/><circle cx="179.9" cy="248.1" r="2.6"/><circle cx="179.9" cy="251.3" r="2.6"/><circle cx="176.2" cy="253.7" r="2.6"/><circle cx="160.3" cy="253.7" r="2.6"/><circle cx="170.1" cy="254.7" r="2.6"/><circle cx="175.0" cy="256.7" r="2.6"/><circle cx="206.8" cy="245.6" r="2.6"/><circle cx="209.3" cy="244.4" r="2.6"/><circle cx="207.3" cy="253.0" r="2.6"/><circle cx="199.5" cy="255.4" r="2.6"/><circle cx="194.1" cy="259.6" r="2.6"/><circle cx="133.3" cy="257.9" r="2.6"/><circle cx="126.7" cy="263.0" r="2.6"/><circle cx="138.7" cy="261.1" r="2.6"/><circle cx="141.9" cy="262.0" r="2.6"/><circle cx="143.1" cy="266.9" r="2.6"/><circle cx="142.6" cy="270.1" r="2.6"/><circle cx="144.3" cy="268.4" r="2.6"/><circle cx="164.7" cy="261.1" r="2.6"/><circle cx="165.7" cy="266.9" r="2.6"/><circle cx="171.3" cy="271.4" r="2.6"/><circle cx="190.2" cy="267.7" r="2.6"/><circle cx="208.8" cy="261.6" r="2.6"/><circle cx="150.9" cy="273.3" r="2.6"/><circle cx="149.2" cy="276.3" r="2.6"/><circle cx="155.4" cy="275.8" r="2.6"/><circle cx="143.6" cy="281.2" r="2.6"/><circle cx="167.1" cy="286.8" r="2.6"/><circle cx="148.7" cy="294.9" r="2.6"/><circle cx="208.8" cy="288.0" r="2.6"/><circle cx="204.4" cy="300.8" r="2.6"/><circle cx="189.7" cy="306.4" r="2.6"/><circle cx="176.2" cy="324.8" r="2.6"/><circle cx="179.7" cy="342.9" r="2.6"/><circle cx="193.3" cy="392.5" r="2.6"/></g><line x1="51.08" y1="100.24" x2="652.0" y2="100.24" stroke="#000" stroke-width="2" stroke-dasharray="5.912 5.912"/><line x1="51.08" y1="337.56" x2="652.0" y2="337.56" stroke="#000" stroke-width="2" stroke-dasharray="5.912 5.912"/><g stroke="#000" stroke-width="1.3"><line x1="78.06" y1="437.0" x2="78.06" y2="432.7"/><line x1="97.34" y1="437.0" x2="97.34" y2="432.7"/><line x1="111.03" y1="437.0" x2="111.03" y2="432.7"/><line x1="121.64" y1="437.0" x2="121.64" y2="428.7"/><line x1="130.31" y1="437.0" x2="130.31" y2="432.7"/><line x1="137.64" y1="437.0" x2="137.64" y2="432.7"/><line x1="143.99" y1="437.0" x2="143.99" y2="432.7"/><line x1="149.59" y1="437.0" x2="149.59" y2="432.7"/><line x1="154.60" y1="437.0" x2="154.60" y2="424.0"/><line x1="187.56" y1="437.0" x2="187.56" y2="432.7"/><line x1="206.84" y1="437.0" x2="206.84" y2="432.7"/><line x1="220.53" y1="437.0" x2="220.53" y2="432.7"/><line x1="231.14" y1="437.0" x2="231.14" y2="428.7"/><line x1="239.81" y1="437.0" x2="239.81" y2="432.7"/><line x1="247.14" y1="437.0" x2="247.14" y2="432.7"/><line x1="253.49" y1="437.0" x2="253.49" y2="432.7"/><line x1="259.09" y1="437.0" x2="259.09" y2="432.7"/><line x1="264.10" y1="437.0" x2="264.10" y2="424.0"/><line x1="297.06" y1="437.0" x2="297.06" y2="432.7"/><line x1="316.34" y1="437.0" x2="316.34" y2="432.7"/><line x1="330.03" y1="437.0" x2="330.03" y2="432.7"/><line x1="340.64" y1="437.0" x2="340.64" y2="428.7"/><line x1="349.31" y1="437.0" x2="349.31" y2="432.7"/><line x1="356.64" y1="437.0" x2="356.64" y2="432.7"/><line x1="362.99" y1="437.0" x2="362.99" y2="432.7"/><line x1="368.59" y1="437.0" x2="368.59" y2="432.7"/><line x1="373.60" y1="437.0" x2="373.60" y2="424.0"/><line x1="406.56" y1="437.0" x2="406.56" y2="432.7"/><line x1="425.84" y1="437.0" x2="425.84" y2="432.7"/><line x1="439.53" y1="437.0" x2="439.53" y2="432.7"/><line x1="450.14" y1="437.0" x2="450.14" y2="428.7"/><line x1="458.81" y1="437.0" x2="458.81" y2="432.7"/><line x1="466.14" y1="437.0" x2="466.14" y2="432.7"/><line x1="472.49" y1="437.0" x2="472.49" y2="432.7"/><line x1="478.09" y1="437.0" x2="478.09" y2="432.7"/><line x1="483.10" y1="437.0" x2="483.10" y2="424.0"/><line x1="516.06" y1="437.0" x2="516.06" y2="432.7"/><line x1="535.34" y1="437.0" x2="535.34" y2="432.7"/><line x1="549.03" y1="437.0" x2="549.03" y2="432.7"/><line x1="559.64" y1="437.0" x2="559.64" y2="428.7"/><line x1="568.31" y1="437.0" x2="568.31" y2="432.7"/><line x1="575.64" y1="437.0" x2="575.64" y2="432.7"/><line x1="581.99" y1="437.0" x2="581.99" y2="432.7"/><line x1="587.59" y1="437.0" x2="587.59" y2="432.7"/><line x1="592.60" y1="437.0" x2="592.60" y2="424.0"/><line x1="625.56" y1="437.0" x2="625.56" y2="432.7"/><line x1="644.84" y1="437.0" x2="644.84" y2="432.7"/></g><rect x="51.0" y="0.5" width="601.0" height="436.5" fill="none" stroke="#333" stroke-width="1.8"/><g stroke="#333" stroke-width="1.3"><line x1="46" y1="400.52" x2="51.0" y2="400.52"/><line x1="46" y1="339.98" x2="51.0" y2="339.98"/><line x1="46" y1="279.44" x2="51.0" y2="279.44"/><line x1="46" y1="218.90" x2="51.0" y2="218.90"/><line x1="46" y1="158.36" x2="51.0" y2="158.36"/><line x1="46" y1="97.82" x2="51.0" y2="97.82"/><line x1="46" y1="37.28" x2="51.0" y2="37.28"/><line x1="154.60" y1="437.0" x2="154.60" y2="441.5"/><line x1="264.10" y1="437.0" x2="264.10" y2="441.5"/><line x1="373.60" y1="437.0" x2="373.60" y2="441.5"/><line x1="483.10" y1="437.0" x2="483.10" y2="441.5"/><line x1="592.60" y1="437.0" x2="592.60" y2="441.5"/></g><g fill="#4d4d4d" font-size="14"><text x="42.2" y="406.12" text-anchor="end" font-size="14.6">-3</text><text x="42.2" y="345.58" text-anchor="end" font-size="14.6">-2</text><text x="42.2" y="285.04" text-anchor="end" font-size="14.6">-1</text><text x="42.2" y="224.50" text-anchor="end" font-size="14.6">0</text><text x="42.2" y="163.96" text-anchor="end" font-size="14.6">1</text><text x="42.2" y="103.42" text-anchor="end" font-size="14.6">2</text><text x="42.2" y="42.88" text-anchor="end" font-size="14.6">3</text><text x="154.60" y="457" text-anchor="middle">1</text><text x="264.10" y="457" text-anchor="middle">10</text><text x="373.60" y="457" text-anchor="middle">100</text><text x="483.10" y="457" text-anchor="middle">1000</text><text x="592.60" y="457" text-anchor="middle">10000</text></g><text x="352.2" y="486.7" text-anchor="middle" font-size="18.75" fill="#000">Population prediction (nM)</text><text transform="translate(14,218.5) rotate(-90)" text-anchor="middle" font-size="18" fill="#000">NPDE</text><text x="89" y="89" font-size="17" fill="#000">2.2%</text><text x="89" y="362" font-size="17" fill="#000">2.4%</text><text x="274.3" y="534.3" font-size="18" fill="#000">BQL</text><circle cx="330" cy="527.7" r="2.6" fill="#00009A" fill-opacity="0.5" stroke="#00009A" stroke-opacity="0.5" stroke-width="0.8"/><circle cx="386.7" cy="528" r="2.6" fill="#8B0000" fill-opacity="0.5" stroke="#8B0000" stroke-opacity="0.5" stroke-width="0.8"/><text x="349.6" y="533.2" font-size="14" fill="#000">No</text><text x="405.5" y="533.2" font-size="14" fill="#000">Yes</text>
</svg></body></html>
